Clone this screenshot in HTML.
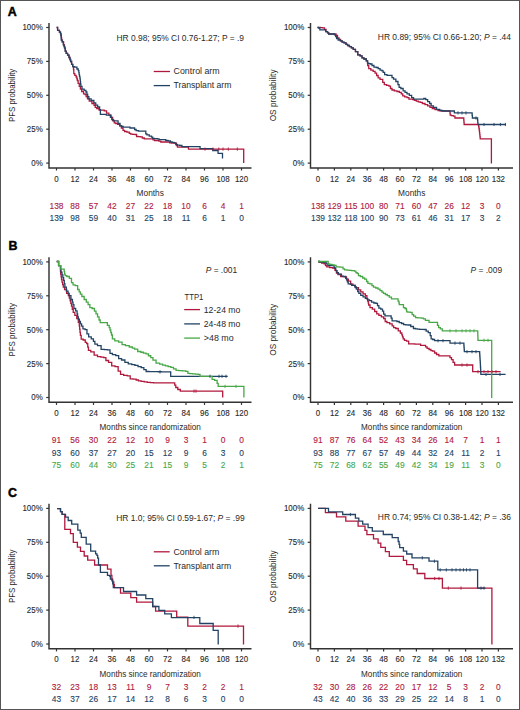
<!DOCTYPE html>
<html><head><meta charset="utf-8"><style>
html,body{margin:0;padding:0;background:#fff;}
body{width:520px;height:710px;overflow:hidden;}
svg{display:block;}
text{font-family:"Liberation Sans",sans-serif;}
</style></head><body>
<svg width="520" height="710" viewBox="0 0 520 710">
<rect x="0" y="0" width="520" height="710" fill="#fff"/>
<g fill="#555"><rect x="0" y="0" width="520" height="1"/><rect x="0" y="709" width="520" height="1"/><rect x="0" y="0" width="1" height="710"/><rect x="519" y="0" width="1" height="710"/></g>
<text x="7.8" y="15.9" text-anchor="start" textLength="8.96" lengthAdjust="spacingAndGlyphs" style="font-size:12.4px;fill:#000;stroke:#000;stroke-width:0.45px;font-weight:bold" >A</text>
<path d="M49 22.9 V167.9 H251.5" fill="none" stroke="#333333" stroke-width="1.45"/>
<path d="M46.2 27.5 H49" stroke="#333333" stroke-width="1.2"/>
<text x="42.7" y="30.4" text-anchor="end" textLength="20.26" lengthAdjust="spacingAndGlyphs" style="font-size:9.0px;fill:#2a2a2a;stroke:#2a2a2a;stroke-width:0.12px" >100%</text>
<path d="M46.2 61.4 H49" stroke="#333333" stroke-width="1.2"/>
<text x="42.7" y="64.3" text-anchor="end" textLength="15.85" lengthAdjust="spacingAndGlyphs" style="font-size:9.0px;fill:#2a2a2a;stroke:#2a2a2a;stroke-width:0.12px" >75%</text>
<path d="M46.2 95.3 H49" stroke="#333333" stroke-width="1.2"/>
<text x="42.7" y="98.2" text-anchor="end" textLength="15.85" lengthAdjust="spacingAndGlyphs" style="font-size:9.0px;fill:#2a2a2a;stroke:#2a2a2a;stroke-width:0.12px" >50%</text>
<path d="M46.2 129.2 H49" stroke="#333333" stroke-width="1.2"/>
<text x="42.7" y="132.1" text-anchor="end" textLength="15.85" lengthAdjust="spacingAndGlyphs" style="font-size:9.0px;fill:#2a2a2a;stroke:#2a2a2a;stroke-width:0.12px" >25%</text>
<path d="M46.2 163.1 H49" stroke="#333333" stroke-width="1.2"/>
<text x="42.7" y="166" text-anchor="end" textLength="11.45" lengthAdjust="spacingAndGlyphs" style="font-size:9.0px;fill:#2a2a2a;stroke:#2a2a2a;stroke-width:0.12px" >0%</text>
<path d="M56.5 167.9 v2.6" stroke="#333333" stroke-width="1.2"/>
<text x="56.5" y="181.5" text-anchor="middle" textLength="4.4" lengthAdjust="spacingAndGlyphs" style="font-size:9.0px;fill:#2a2a2a;stroke:#2a2a2a;stroke-width:0.12px" >0</text>
<path d="M75 167.9 v2.6" stroke="#333333" stroke-width="1.2"/>
<text x="75" y="181.5" text-anchor="middle" textLength="8.81" lengthAdjust="spacingAndGlyphs" style="font-size:9.0px;fill:#2a2a2a;stroke:#2a2a2a;stroke-width:0.12px" >12</text>
<path d="M93.5 167.9 v2.6" stroke="#333333" stroke-width="1.2"/>
<text x="93.5" y="181.5" text-anchor="middle" textLength="8.81" lengthAdjust="spacingAndGlyphs" style="font-size:9.0px;fill:#2a2a2a;stroke:#2a2a2a;stroke-width:0.12px" >24</text>
<path d="M112 167.9 v2.6" stroke="#333333" stroke-width="1.2"/>
<text x="112" y="181.5" text-anchor="middle" textLength="8.81" lengthAdjust="spacingAndGlyphs" style="font-size:9.0px;fill:#2a2a2a;stroke:#2a2a2a;stroke-width:0.12px" >36</text>
<path d="M130.5 167.9 v2.6" stroke="#333333" stroke-width="1.2"/>
<text x="130.5" y="181.5" text-anchor="middle" textLength="8.81" lengthAdjust="spacingAndGlyphs" style="font-size:9.0px;fill:#2a2a2a;stroke:#2a2a2a;stroke-width:0.12px" >48</text>
<path d="M149 167.9 v2.6" stroke="#333333" stroke-width="1.2"/>
<text x="149" y="181.5" text-anchor="middle" textLength="8.81" lengthAdjust="spacingAndGlyphs" style="font-size:9.0px;fill:#2a2a2a;stroke:#2a2a2a;stroke-width:0.12px" >60</text>
<path d="M167.5 167.9 v2.6" stroke="#333333" stroke-width="1.2"/>
<text x="167.5" y="181.5" text-anchor="middle" textLength="8.81" lengthAdjust="spacingAndGlyphs" style="font-size:9.0px;fill:#2a2a2a;stroke:#2a2a2a;stroke-width:0.12px" >72</text>
<path d="M186 167.9 v2.6" stroke="#333333" stroke-width="1.2"/>
<text x="186" y="181.5" text-anchor="middle" textLength="8.81" lengthAdjust="spacingAndGlyphs" style="font-size:9.0px;fill:#2a2a2a;stroke:#2a2a2a;stroke-width:0.12px" >84</text>
<path d="M204.5 167.9 v2.6" stroke="#333333" stroke-width="1.2"/>
<text x="204.5" y="181.5" text-anchor="middle" textLength="8.81" lengthAdjust="spacingAndGlyphs" style="font-size:9.0px;fill:#2a2a2a;stroke:#2a2a2a;stroke-width:0.12px" >96</text>
<path d="M223 167.9 v2.6" stroke="#333333" stroke-width="1.2"/>
<text x="223" y="181.5" text-anchor="middle" textLength="13.21" lengthAdjust="spacingAndGlyphs" style="font-size:9.0px;fill:#2a2a2a;stroke:#2a2a2a;stroke-width:0.12px" >108</text>
<path d="M241.5 167.9 v2.6" stroke="#333333" stroke-width="1.2"/>
<text x="241.5" y="181.5" text-anchor="middle" textLength="13.21" lengthAdjust="spacingAndGlyphs" style="font-size:9.0px;fill:#2a2a2a;stroke:#2a2a2a;stroke-width:0.12px" >120</text>
<text x="150.25" y="195.6" text-anchor="middle" textLength="27.3" lengthAdjust="spacingAndGlyphs" style="font-size:9.8px;fill:#2a2a2a;stroke:#2a2a2a;stroke-width:0.0px" >Months</text>
<g transform="translate(14.6 95.4) rotate(-90)">
<text x="0" y="0" text-anchor="middle" textLength="53.3" lengthAdjust="spacingAndGlyphs" style="font-size:9.8px;fill:#2a2a2a;stroke:#2a2a2a;stroke-width:0.0px" >PFS probability</text>
</g>
<text x="56.5" y="208.6" text-anchor="middle" textLength="13.97" lengthAdjust="spacingAndGlyphs" style="font-size:9.0px;fill:#b0183d;stroke:#b0183d;stroke-width:0.12px" >138</text>
<text x="75" y="208.6" text-anchor="middle" textLength="9.31" lengthAdjust="spacingAndGlyphs" style="font-size:9.0px;fill:#b0183d;stroke:#b0183d;stroke-width:0.12px" >88</text>
<text x="93.5" y="208.6" text-anchor="middle" textLength="9.31" lengthAdjust="spacingAndGlyphs" style="font-size:9.0px;fill:#b0183d;stroke:#b0183d;stroke-width:0.12px" >57</text>
<text x="112" y="208.6" text-anchor="middle" textLength="9.31" lengthAdjust="spacingAndGlyphs" style="font-size:9.0px;fill:#b0183d;stroke:#b0183d;stroke-width:0.12px" >42</text>
<text x="130.5" y="208.6" text-anchor="middle" textLength="9.31" lengthAdjust="spacingAndGlyphs" style="font-size:9.0px;fill:#b0183d;stroke:#b0183d;stroke-width:0.12px" >27</text>
<text x="149" y="208.6" text-anchor="middle" textLength="9.31" lengthAdjust="spacingAndGlyphs" style="font-size:9.0px;fill:#b0183d;stroke:#b0183d;stroke-width:0.12px" >22</text>
<text x="167.5" y="208.6" text-anchor="middle" textLength="9.31" lengthAdjust="spacingAndGlyphs" style="font-size:9.0px;fill:#b0183d;stroke:#b0183d;stroke-width:0.12px" >18</text>
<text x="186" y="208.6" text-anchor="middle" textLength="9.31" lengthAdjust="spacingAndGlyphs" style="font-size:9.0px;fill:#b0183d;stroke:#b0183d;stroke-width:0.12px" >10</text>
<text x="204.5" y="208.6" text-anchor="middle" textLength="4.66" lengthAdjust="spacingAndGlyphs" style="font-size:9.0px;fill:#b0183d;stroke:#b0183d;stroke-width:0.12px" >6</text>
<text x="223" y="208.6" text-anchor="middle" textLength="4.66" lengthAdjust="spacingAndGlyphs" style="font-size:9.0px;fill:#b0183d;stroke:#b0183d;stroke-width:0.12px" >4</text>
<text x="241.5" y="208.6" text-anchor="middle" textLength="4.66" lengthAdjust="spacingAndGlyphs" style="font-size:9.0px;fill:#b0183d;stroke:#b0183d;stroke-width:0.12px" >1</text>
<text x="56.5" y="221.1" text-anchor="middle" textLength="13.97" lengthAdjust="spacingAndGlyphs" style="font-size:9.0px;fill:#234364;stroke:#234364;stroke-width:0.12px" >139</text>
<text x="75" y="221.1" text-anchor="middle" textLength="9.31" lengthAdjust="spacingAndGlyphs" style="font-size:9.0px;fill:#234364;stroke:#234364;stroke-width:0.12px" >98</text>
<text x="93.5" y="221.1" text-anchor="middle" textLength="9.31" lengthAdjust="spacingAndGlyphs" style="font-size:9.0px;fill:#234364;stroke:#234364;stroke-width:0.12px" >59</text>
<text x="112" y="221.1" text-anchor="middle" textLength="9.31" lengthAdjust="spacingAndGlyphs" style="font-size:9.0px;fill:#234364;stroke:#234364;stroke-width:0.12px" >40</text>
<text x="130.5" y="221.1" text-anchor="middle" textLength="9.31" lengthAdjust="spacingAndGlyphs" style="font-size:9.0px;fill:#234364;stroke:#234364;stroke-width:0.12px" >31</text>
<text x="149" y="221.1" text-anchor="middle" textLength="9.31" lengthAdjust="spacingAndGlyphs" style="font-size:9.0px;fill:#234364;stroke:#234364;stroke-width:0.12px" >25</text>
<text x="167.5" y="221.1" text-anchor="middle" textLength="9.31" lengthAdjust="spacingAndGlyphs" style="font-size:9.0px;fill:#234364;stroke:#234364;stroke-width:0.12px" >18</text>
<text x="186" y="221.1" text-anchor="middle" textLength="8.69" lengthAdjust="spacingAndGlyphs" style="font-size:9.0px;fill:#234364;stroke:#234364;stroke-width:0.12px" >11</text>
<text x="204.5" y="221.1" text-anchor="middle" textLength="4.66" lengthAdjust="spacingAndGlyphs" style="font-size:9.0px;fill:#234364;stroke:#234364;stroke-width:0.12px" >6</text>
<text x="223" y="221.1" text-anchor="middle" textLength="4.66" lengthAdjust="spacingAndGlyphs" style="font-size:9.0px;fill:#234364;stroke:#234364;stroke-width:0.12px" >1</text>
<text x="241.5" y="221.1" text-anchor="middle" textLength="4.66" lengthAdjust="spacingAndGlyphs" style="font-size:9.0px;fill:#234364;stroke:#234364;stroke-width:0.12px" >0</text>
<text x="116.5" y="40.5" text-anchor="start" textLength="127.5" lengthAdjust="spacingAndGlyphs" style="font-size:8.7px;fill:#2a2a2a;stroke:#2a2a2a;stroke-width:0.0px" >HR 0.98; 95% CI 0.76-1.27; P = .9</text>
<path d="M153.7 71.5 H170" stroke="#b0183d" stroke-width="1.3"/>
<path d="M153.7 85.6 H170" stroke="#234364" stroke-width="1.3"/>
<text x="173.6" y="74.2" text-anchor="start" textLength="46" lengthAdjust="spacingAndGlyphs" style="font-size:9.0px;fill:#2a2a2a;stroke:#2a2a2a;stroke-width:0.0px" >Control arm</text>
<text x="173.6" y="88.3" text-anchor="start" textLength="57.8" lengthAdjust="spacingAndGlyphs" style="font-size:9.0px;fill:#2a2a2a;stroke:#2a2a2a;stroke-width:0.0px" >Transplant arm</text>
<path d="M56.6 27.5 H57.6 V30.3 H58.6 H59.45 V32.1 H60.3 H60.52 V33.8 H60.98 V35.5 H61.2 H61.35 V37.85 H61.65 V40.2 H61.8 H62.4 V41.9 H63 H63.6 V44.8 H64.2 H64.4 V46.5 H64.8 V48.2 H65 H65.4 V51.1 H65.8 H66.35 V53.4 H66.9 H67.65 V55.2 H68.4 H69 V57.5 H69.6 H69.92 V59.5 H70.58 V61.5 H70.9 H71.6 V64.3 H72.3 H72.75 V66.7 H73.2 H73.5 V69.5 H73.8 V73.6 H74.8 V75.3 H75.5 H76.1 V77 H76.7 H76.9 V78.75 H77.3 V80.5 H77.5 H78.1 V83.4 H78.7 H79.25 V86.3 H79.8 H80.4 V89.2 H81 H81.7 V91.5 H82.4 H83.55 V93.8 H84.7 H85.1 V94.5 H85.5 H86.15 V96.7 H87.45 V98.9 H88.1 H89.25 V101.2 H90.4 H91.95 V103.5 H93.5 H94.08 V105.45 H95.22 V107.4 H95.8 H96.75 V108.5 H97.7 H99.05 V110.1 H100.4 H102.7 H104.25 V110.8 H105.8 H106.55 V113.2 H107.3 H108.85 V115.1 H110.4 H111.15 V117.4 H111.9 H112.7 V120.5 H113.5 H114.25 V122.8 H115 H115.75 V123.5 H116.5 H117.65 V124.3 H118.8 H119.6 V125.8 H120.4 H121.35 V128 H122.3 H123.05 V130.3 H123.8 H124.6 V131.5 H125.4 H126.95 V132.2 H128.5 H129.25 V133.4 H130 H130.75 V134.2 H131.5 H132.68 V134.35 H135.02 V134.5 H136.2 H136.55 V136.5 H136.9 H138.05 V136.65 H140.35 V136.8 H141.5 H142.3 V138 H143.1 H144.25 V138.8 H145.4 H152.3 H153.05 V139.9 H153.8 H154.6 V140.5 H155.4 H158.1 H158.85 V141.2 H159.6 H160.75 V142 H161.9 H168.8 H169.6 V142.8 H170.4 H171.75 V143 H174.45 V143.2 H175.8 H176.35 V145.5 H176.9 H177.5 V147.2 H178.1 H188.1 H188.45 V149.1 H188.8 H243.7 V162.9" fill="none" stroke="#b0183d" stroke-width="1.3"/>
<path d="M56.6 27.5 H57.6 V30.3 H58.6 H59.45 V32.1 H60.3 H60.52 V33.8 H60.98 V35.5 H61.2 V40.2 H62.1 V41.9 H62.7 H63.25 V44.8 H63.8 H64.03 V46.5 H64.47 V48.2 H64.7 H65.1 V51.1 H65.5 H66.1 V53.4 H66.7 H67.55 V55.2 H68.4 H69 V57.5 H69.6 H69.92 V59.5 H70.58 V61.5 H70.9 H71.6 V64.3 H72.3 H72.75 V66.7 H73.2 H74.65 V67.2 H76.1 H76.95 V69 H77.8 H78.25 V70.7 H78.7 H78.85 V72.7 H79.15 V74.7 H79.3 H79.5 V76.45 H79.9 V78.2 H80.1 H80.17 V79.95 H80.33 V81.7 H80.4 H80.55 V84 H80.85 V86.3 H81 H82 V89.2 H83 H84.15 V90.3 H85.3 H85.9 V92 H86.5 H86.9 V94.3 H87.7 V96.6 H88.1 H88.85 V98.9 H89.6 H91.15 V100.5 H92.7 H93.85 V102.8 H95 H95.75 V105.1 H96.5 H97.65 V107 H98.8 H99.6 V109.7 H100.4 V114.3 H105.8 H106.35 V115.1 H106.9 H109.6 H110.4 V117.4 H111.2 H111.75 V119.7 H112.3 H113.25 V120.8 H114.2 H117.3 H118.05 V123.5 H118.8 H120 V125.8 H121.2 H121.75 V126.5 H122.3 H123.05 V127.2 H123.8 H129.2 H130 V128 H130.8 H133.8 H134.6 V129.5 H135.4 H136.15 V130.7 H136.9 H138.45 V131.1 H140 H145.4 H145.8 V133.8 H146.2 H146.95 V134.9 H147.7 H149.25 V136.1 H150.8 H151.55 V137.2 H152.3 H152.7 V138.4 H153.1 H154.45 V138.6 H157.15 V138.8 H158.5 H159.05 V139.7 H159.6 H165 H165.75 V140.5 H166.5 H168.05 V140.8 H169.6 H170.4 V142 H171.2 H172.15 V142.4 H174.05 V142.8 H175 H175.75 V144.3 H176.5 H177.3 V145.1 H178.1 H179.65 V145.5 H181.2 H181.95 V146.6 H182.7 H199.8 H200.05 V148.6 H200.3 H212.5 H212.75 V150.5 H213 H217.8 H218.05 V153.3 H218.3 H222.5 V158.6" fill="none" stroke="#234364" stroke-width="1.3"/>
<path d="M205 147.5 v3.2" stroke="#b0183d" stroke-width="0.9"/>
<path d="M213 147.5 v3.2" stroke="#b0183d" stroke-width="0.9"/>
<path d="M218.8 147.5 v3.2" stroke="#b0183d" stroke-width="0.9"/>
<path d="M223 147.5 v3.2" stroke="#b0183d" stroke-width="0.9"/>
<path d="M228.3 147.5 v3.2" stroke="#b0183d" stroke-width="0.9"/>
<path d="M237.3 147.5 v3.2" stroke="#b0183d" stroke-width="0.9"/>
<path d="M310.5 22.9 V167.9 H513" fill="none" stroke="#333333" stroke-width="1.45"/>
<path d="M307.7 27.5 H310.5" stroke="#333333" stroke-width="1.2"/>
<text x="304.2" y="30.4" text-anchor="end" textLength="20.26" lengthAdjust="spacingAndGlyphs" style="font-size:9.0px;fill:#2a2a2a;stroke:#2a2a2a;stroke-width:0.12px" >100%</text>
<path d="M307.7 61.4 H310.5" stroke="#333333" stroke-width="1.2"/>
<text x="304.2" y="64.3" text-anchor="end" textLength="15.85" lengthAdjust="spacingAndGlyphs" style="font-size:9.0px;fill:#2a2a2a;stroke:#2a2a2a;stroke-width:0.12px" >75%</text>
<path d="M307.7 95.3 H310.5" stroke="#333333" stroke-width="1.2"/>
<text x="304.2" y="98.2" text-anchor="end" textLength="15.85" lengthAdjust="spacingAndGlyphs" style="font-size:9.0px;fill:#2a2a2a;stroke:#2a2a2a;stroke-width:0.12px" >50%</text>
<path d="M307.7 129.2 H310.5" stroke="#333333" stroke-width="1.2"/>
<text x="304.2" y="132.1" text-anchor="end" textLength="15.85" lengthAdjust="spacingAndGlyphs" style="font-size:9.0px;fill:#2a2a2a;stroke:#2a2a2a;stroke-width:0.12px" >25%</text>
<path d="M307.7 163.1 H310.5" stroke="#333333" stroke-width="1.2"/>
<text x="304.2" y="166" text-anchor="end" textLength="11.45" lengthAdjust="spacingAndGlyphs" style="font-size:9.0px;fill:#2a2a2a;stroke:#2a2a2a;stroke-width:0.12px" >0%</text>
<path d="M318 167.9 v2.6" stroke="#333333" stroke-width="1.2"/>
<text x="318" y="181.5" text-anchor="middle" textLength="4.4" lengthAdjust="spacingAndGlyphs" style="font-size:9.0px;fill:#2a2a2a;stroke:#2a2a2a;stroke-width:0.12px" >0</text>
<path d="M334.4 167.9 v2.6" stroke="#333333" stroke-width="1.2"/>
<text x="334.4" y="181.5" text-anchor="middle" textLength="8.81" lengthAdjust="spacingAndGlyphs" style="font-size:9.0px;fill:#2a2a2a;stroke:#2a2a2a;stroke-width:0.12px" >12</text>
<path d="M350.8 167.9 v2.6" stroke="#333333" stroke-width="1.2"/>
<text x="350.8" y="181.5" text-anchor="middle" textLength="8.81" lengthAdjust="spacingAndGlyphs" style="font-size:9.0px;fill:#2a2a2a;stroke:#2a2a2a;stroke-width:0.12px" >24</text>
<path d="M367.2 167.9 v2.6" stroke="#333333" stroke-width="1.2"/>
<text x="367.2" y="181.5" text-anchor="middle" textLength="8.81" lengthAdjust="spacingAndGlyphs" style="font-size:9.0px;fill:#2a2a2a;stroke:#2a2a2a;stroke-width:0.12px" >36</text>
<path d="M383.6 167.9 v2.6" stroke="#333333" stroke-width="1.2"/>
<text x="383.6" y="181.5" text-anchor="middle" textLength="8.81" lengthAdjust="spacingAndGlyphs" style="font-size:9.0px;fill:#2a2a2a;stroke:#2a2a2a;stroke-width:0.12px" >48</text>
<path d="M400 167.9 v2.6" stroke="#333333" stroke-width="1.2"/>
<text x="400" y="181.5" text-anchor="middle" textLength="8.81" lengthAdjust="spacingAndGlyphs" style="font-size:9.0px;fill:#2a2a2a;stroke:#2a2a2a;stroke-width:0.12px" >60</text>
<path d="M416.4 167.9 v2.6" stroke="#333333" stroke-width="1.2"/>
<text x="416.4" y="181.5" text-anchor="middle" textLength="8.81" lengthAdjust="spacingAndGlyphs" style="font-size:9.0px;fill:#2a2a2a;stroke:#2a2a2a;stroke-width:0.12px" >72</text>
<path d="M432.8 167.9 v2.6" stroke="#333333" stroke-width="1.2"/>
<text x="432.8" y="181.5" text-anchor="middle" textLength="8.81" lengthAdjust="spacingAndGlyphs" style="font-size:9.0px;fill:#2a2a2a;stroke:#2a2a2a;stroke-width:0.12px" >84</text>
<path d="M449.2 167.9 v2.6" stroke="#333333" stroke-width="1.2"/>
<text x="449.2" y="181.5" text-anchor="middle" textLength="8.81" lengthAdjust="spacingAndGlyphs" style="font-size:9.0px;fill:#2a2a2a;stroke:#2a2a2a;stroke-width:0.12px" >96</text>
<path d="M465.6 167.9 v2.6" stroke="#333333" stroke-width="1.2"/>
<text x="465.6" y="181.5" text-anchor="middle" textLength="13.21" lengthAdjust="spacingAndGlyphs" style="font-size:9.0px;fill:#2a2a2a;stroke:#2a2a2a;stroke-width:0.12px" >108</text>
<path d="M482 167.9 v2.6" stroke="#333333" stroke-width="1.2"/>
<text x="482" y="181.5" text-anchor="middle" textLength="13.21" lengthAdjust="spacingAndGlyphs" style="font-size:9.0px;fill:#2a2a2a;stroke:#2a2a2a;stroke-width:0.12px" >120</text>
<path d="M498.4 167.9 v2.6" stroke="#333333" stroke-width="1.2"/>
<text x="498.4" y="181.5" text-anchor="middle" textLength="13.21" lengthAdjust="spacingAndGlyphs" style="font-size:9.0px;fill:#2a2a2a;stroke:#2a2a2a;stroke-width:0.12px" >132</text>
<text x="411.75" y="195.6" text-anchor="middle" textLength="27.3" lengthAdjust="spacingAndGlyphs" style="font-size:9.8px;fill:#2a2a2a;stroke:#2a2a2a;stroke-width:0.0px" >Months</text>
<g transform="translate(276.1 95.4) rotate(-90)">
<text x="0" y="0" text-anchor="middle" textLength="51.9" lengthAdjust="spacingAndGlyphs" style="font-size:9.8px;fill:#2a2a2a;stroke:#2a2a2a;stroke-width:0.0px" >OS probability</text>
</g>
<text x="318" y="208.6" text-anchor="middle" textLength="13.97" lengthAdjust="spacingAndGlyphs" style="font-size:9.0px;fill:#b0183d;stroke:#b0183d;stroke-width:0.12px" >138</text>
<text x="334.4" y="208.6" text-anchor="middle" textLength="13.97" lengthAdjust="spacingAndGlyphs" style="font-size:9.0px;fill:#b0183d;stroke:#b0183d;stroke-width:0.12px" >129</text>
<text x="350.8" y="208.6" text-anchor="middle" textLength="13.34" lengthAdjust="spacingAndGlyphs" style="font-size:9.0px;fill:#b0183d;stroke:#b0183d;stroke-width:0.12px" >115</text>
<text x="367.2" y="208.6" text-anchor="middle" textLength="13.97" lengthAdjust="spacingAndGlyphs" style="font-size:9.0px;fill:#b0183d;stroke:#b0183d;stroke-width:0.12px" >100</text>
<text x="383.6" y="208.6" text-anchor="middle" textLength="9.31" lengthAdjust="spacingAndGlyphs" style="font-size:9.0px;fill:#b0183d;stroke:#b0183d;stroke-width:0.12px" >80</text>
<text x="400" y="208.6" text-anchor="middle" textLength="9.31" lengthAdjust="spacingAndGlyphs" style="font-size:9.0px;fill:#b0183d;stroke:#b0183d;stroke-width:0.12px" >71</text>
<text x="416.4" y="208.6" text-anchor="middle" textLength="9.31" lengthAdjust="spacingAndGlyphs" style="font-size:9.0px;fill:#b0183d;stroke:#b0183d;stroke-width:0.12px" >60</text>
<text x="432.8" y="208.6" text-anchor="middle" textLength="9.31" lengthAdjust="spacingAndGlyphs" style="font-size:9.0px;fill:#b0183d;stroke:#b0183d;stroke-width:0.12px" >47</text>
<text x="449.2" y="208.6" text-anchor="middle" textLength="9.31" lengthAdjust="spacingAndGlyphs" style="font-size:9.0px;fill:#b0183d;stroke:#b0183d;stroke-width:0.12px" >26</text>
<text x="465.6" y="208.6" text-anchor="middle" textLength="9.31" lengthAdjust="spacingAndGlyphs" style="font-size:9.0px;fill:#b0183d;stroke:#b0183d;stroke-width:0.12px" >12</text>
<text x="482" y="208.6" text-anchor="middle" textLength="4.66" lengthAdjust="spacingAndGlyphs" style="font-size:9.0px;fill:#b0183d;stroke:#b0183d;stroke-width:0.12px" >3</text>
<text x="498.4" y="208.6" text-anchor="middle" textLength="4.66" lengthAdjust="spacingAndGlyphs" style="font-size:9.0px;fill:#b0183d;stroke:#b0183d;stroke-width:0.12px" >0</text>
<text x="318" y="221.1" text-anchor="middle" textLength="13.97" lengthAdjust="spacingAndGlyphs" style="font-size:9.0px;fill:#234364;stroke:#234364;stroke-width:0.12px" >139</text>
<text x="334.4" y="221.1" text-anchor="middle" textLength="13.97" lengthAdjust="spacingAndGlyphs" style="font-size:9.0px;fill:#234364;stroke:#234364;stroke-width:0.12px" >132</text>
<text x="350.8" y="221.1" text-anchor="middle" textLength="13.34" lengthAdjust="spacingAndGlyphs" style="font-size:9.0px;fill:#234364;stroke:#234364;stroke-width:0.12px" >118</text>
<text x="367.2" y="221.1" text-anchor="middle" textLength="13.97" lengthAdjust="spacingAndGlyphs" style="font-size:9.0px;fill:#234364;stroke:#234364;stroke-width:0.12px" >100</text>
<text x="383.6" y="221.1" text-anchor="middle" textLength="9.31" lengthAdjust="spacingAndGlyphs" style="font-size:9.0px;fill:#234364;stroke:#234364;stroke-width:0.12px" >90</text>
<text x="400" y="221.1" text-anchor="middle" textLength="9.31" lengthAdjust="spacingAndGlyphs" style="font-size:9.0px;fill:#234364;stroke:#234364;stroke-width:0.12px" >73</text>
<text x="416.4" y="221.1" text-anchor="middle" textLength="9.31" lengthAdjust="spacingAndGlyphs" style="font-size:9.0px;fill:#234364;stroke:#234364;stroke-width:0.12px" >61</text>
<text x="432.8" y="221.1" text-anchor="middle" textLength="9.31" lengthAdjust="spacingAndGlyphs" style="font-size:9.0px;fill:#234364;stroke:#234364;stroke-width:0.12px" >46</text>
<text x="449.2" y="221.1" text-anchor="middle" textLength="9.31" lengthAdjust="spacingAndGlyphs" style="font-size:9.0px;fill:#234364;stroke:#234364;stroke-width:0.12px" >31</text>
<text x="465.6" y="221.1" text-anchor="middle" textLength="9.31" lengthAdjust="spacingAndGlyphs" style="font-size:9.0px;fill:#234364;stroke:#234364;stroke-width:0.12px" >17</text>
<text x="482" y="221.1" text-anchor="middle" textLength="4.66" lengthAdjust="spacingAndGlyphs" style="font-size:9.0px;fill:#234364;stroke:#234364;stroke-width:0.12px" >3</text>
<text x="498.4" y="221.1" text-anchor="middle" textLength="4.66" lengthAdjust="spacingAndGlyphs" style="font-size:9.0px;fill:#234364;stroke:#234364;stroke-width:0.12px" >2</text>
<text x="377.8" y="40.4" text-anchor="start" textLength="133.2" lengthAdjust="spacingAndGlyphs" style="font-size:8.7px;fill:#2a2a2a;stroke:#2a2a2a;stroke-width:0.0px" >HR 0.89; 95% CI 0.66-1.20; <tspan font-style="italic">P</tspan> = .44</text>
<path d="M317.5 27.3 H319.1 H320.25 V27.65 H322.55 V27.8 H323.7 H324.45 V29.4 H325.2 H326 V31.7 H326.8 H327.55 V32.8 H328.3 H328.7 V34 H329.1 H335.2 H336 V35.5 H336.8 H337.55 V37.8 H338.3 H339.05 V39.4 H339.8 H340.6 V40.9 H341.4 H342.15 V42.1 H342.9 H344.05 V42.8 H345.2 H346 V44.4 H346.8 H347.55 V45.5 H348.3 H349.45 V46.7 H350.6 H351.4 V47.8 H352.2 H353.25 V49.4 H354.3 H355.45 V51.7 H356.6 H357.75 V54.8 H358.9 H360.05 V55.9 H361.2 H362 V57.8 H362.8 H363.95 V59 H365.1 H366.25 V60.9 H367.4 H367.5 V63.2 H367.7 V65.5 H367.8 H368.75 V68.6 H369.7 H370.85 V70.2 H372 H373.15 V71.3 H374.3 H375.05 V73.2 H375.8 H376.6 V75.5 H377.4 H378.15 V77.8 H378.9 H380.05 V79.4 H381.2 H382 H382.75 V82.3 H383.5 H384.3 V84.6 H385.1 H386.65 V85.4 H388.2 H388.95 V86.2 H389.7 H390.45 V88.5 H391.2 H392 V90 H392.8 H394.3 V90.8 H395.8 H397 V91.5 H398.2 H399.35 V92.3 H400.5 H401.25 V93.8 H402 H402.75 V95.8 H403.5 H404.65 V96.9 H405.8 H407 V97.7 H408.2 H408.95 V99.2 H409.7 H412 H412.75 V99.6 H413.5 H414.45 V100.4 H416.35 V101.2 H417.3 H418.27 V101.8 H420.23 V102.4 H421.2 H422.35 V103.5 H423.5 H425 V104.7 H426.5 H427.65 V105.8 H428.8 H430 V107.4 H431.2 H432.35 V108.5 H433.5 H435 V109.7 H436.5 H438.05 V110.5 H439.6 H441.15 V111 H442.7 H449.9 H450 V113.1 H450.2 V115.2 H450.3 H451.35 V115.7 H453.45 V116.2 H454.5 H454.95 V118 H455.4 H463.7 H463.78 V120.17 H463.95 V122.33 H464.12 V124.5 H464.2 H478.5 H478.65 V126.5 H478.95 V128.5 H479.25 V130.5 H479.4 H479.51 V132.57 H479.74 V134.65 H479.96 V136.73 H480.19 V138.8 H480.3 H491.4 V163.5" fill="none" stroke="#b0183d" stroke-width="1.3"/>
<path d="M317.5 27.3 H318.3 V28.2 H319.1 H319.85 V29.8 H320.6 H324.5 H325.65 V31.7 H326.8 H327.55 V32.8 H328.3 H328.7 V34 H329.1 H333.7 H334.45 V34.8 H335.2 H335.6 V36.7 H336 H336.6 V38.6 H337.2 H338.15 V40.2 H339.1 H340.25 V40.9 H341.4 H342.15 V42.1 H342.9 H344.05 V42.8 H345.2 H346 V44.4 H346.8 H347.55 V45.5 H348.3 H349.45 V46.7 H350.6 H351.4 V47.8 H352.2 H353.25 V49.4 H354.3 H355.45 V51.7 H356.6 H357.75 V54.8 H358.9 H360.05 V55.9 H361.2 H362 V57.8 H362.8 H363.95 V59 H365.1 H366.25 V60.9 H367.4 H367.6 V63.2 H367.8 H368.65 V63.6 H370.35 V64 H371.2 H372 V65.5 H372.8 H373.95 V67.1 H375.1 H376.25 V67.5 H377.4 H378.15 V68.6 H378.9 H380.05 V70.2 H381.2 H382 V70.8 H382.8 H383.15 V72.3 H383.5 H384.65 V74.6 H385.8 H387 V75.4 H388.2 H391.2 H392 V77.7 H392.8 H393.55 V79.2 H394.3 H395.85 V81.5 H397.4 H397.95 V84.6 H398.5 H399.1 V87.3 H399.7 H400.85 V88.5 H402 H403.15 V90.8 H404.3 H405.05 V92.3 H405.8 H407 V93.8 H408.2 H409.35 V95.4 H410.5 H411.65 V97.7 H412.8 H413.55 V99.2 H414.3 H422.7 H423.85 V98.5 H425 H425.75 V99.7 H426.5 H427.65 V101.6 H428.8 H429.6 V103.5 H430.4 H431.15 V105.8 H431.9 H433.45 V107.4 H435 H436.55 V109.3 H438.1 H439.65 V110.5 H441.2 H442.15 V110.75 H444.05 V111 H445 H454.2 H454.35 V112.9 H454.5 H472 H472.12 V115.45 H472.38 V118 H472.5 H477.5 H477.58 V120.17 H477.75 V122.33 H477.92 V124.5 H478 H506" fill="none" stroke="#234364" stroke-width="1.3"/>
<path d="M484 122.9 v3.2" stroke="#234364" stroke-width="0.9"/>
<path d="M494 122.9 v3.2" stroke="#234364" stroke-width="0.9"/>
<path d="M500.4 122.9 v3.2" stroke="#234364" stroke-width="0.9"/>
<path d="M505.4 122.9 v3.2" stroke="#234364" stroke-width="0.9"/>
<path d="M458 111.3 v3.2" stroke="#234364" stroke-width="0.9"/>
<path d="M462 111.3 v3.2" stroke="#234364" stroke-width="0.9"/>
<path d="M466 111.3 v3.2" stroke="#234364" stroke-width="0.9"/>
<path d="M476 116.4 v3.2" stroke="#234364" stroke-width="0.9"/>
<text x="8.6" y="250.2" text-anchor="start" textLength="8.96" lengthAdjust="spacingAndGlyphs" style="font-size:12.4px;fill:#000;stroke:#000;stroke-width:0.45px;font-weight:bold" >B</text>
<path d="M49 257.3 V402.3 H251.5" fill="none" stroke="#333333" stroke-width="1.45"/>
<path d="M46.2 261.9 H49" stroke="#333333" stroke-width="1.2"/>
<text x="42.7" y="264.8" text-anchor="end" textLength="20.26" lengthAdjust="spacingAndGlyphs" style="font-size:9.0px;fill:#2a2a2a;stroke:#2a2a2a;stroke-width:0.12px" >100%</text>
<path d="M46.2 295.8 H49" stroke="#333333" stroke-width="1.2"/>
<text x="42.7" y="298.7" text-anchor="end" textLength="15.85" lengthAdjust="spacingAndGlyphs" style="font-size:9.0px;fill:#2a2a2a;stroke:#2a2a2a;stroke-width:0.12px" >75%</text>
<path d="M46.2 329.7 H49" stroke="#333333" stroke-width="1.2"/>
<text x="42.7" y="332.6" text-anchor="end" textLength="15.85" lengthAdjust="spacingAndGlyphs" style="font-size:9.0px;fill:#2a2a2a;stroke:#2a2a2a;stroke-width:0.12px" >50%</text>
<path d="M46.2 363.6 H49" stroke="#333333" stroke-width="1.2"/>
<text x="42.7" y="366.5" text-anchor="end" textLength="15.85" lengthAdjust="spacingAndGlyphs" style="font-size:9.0px;fill:#2a2a2a;stroke:#2a2a2a;stroke-width:0.12px" >25%</text>
<path d="M46.2 397.5 H49" stroke="#333333" stroke-width="1.2"/>
<text x="42.7" y="400.4" text-anchor="end" textLength="11.45" lengthAdjust="spacingAndGlyphs" style="font-size:9.0px;fill:#2a2a2a;stroke:#2a2a2a;stroke-width:0.12px" >0%</text>
<path d="M56.5 402.3 v2.6" stroke="#333333" stroke-width="1.2"/>
<text x="56.5" y="415.9" text-anchor="middle" textLength="4.4" lengthAdjust="spacingAndGlyphs" style="font-size:9.0px;fill:#2a2a2a;stroke:#2a2a2a;stroke-width:0.12px" >0</text>
<path d="M75 402.3 v2.6" stroke="#333333" stroke-width="1.2"/>
<text x="75" y="415.9" text-anchor="middle" textLength="8.81" lengthAdjust="spacingAndGlyphs" style="font-size:9.0px;fill:#2a2a2a;stroke:#2a2a2a;stroke-width:0.12px" >12</text>
<path d="M93.5 402.3 v2.6" stroke="#333333" stroke-width="1.2"/>
<text x="93.5" y="415.9" text-anchor="middle" textLength="8.81" lengthAdjust="spacingAndGlyphs" style="font-size:9.0px;fill:#2a2a2a;stroke:#2a2a2a;stroke-width:0.12px" >24</text>
<path d="M112 402.3 v2.6" stroke="#333333" stroke-width="1.2"/>
<text x="112" y="415.9" text-anchor="middle" textLength="8.81" lengthAdjust="spacingAndGlyphs" style="font-size:9.0px;fill:#2a2a2a;stroke:#2a2a2a;stroke-width:0.12px" >36</text>
<path d="M130.5 402.3 v2.6" stroke="#333333" stroke-width="1.2"/>
<text x="130.5" y="415.9" text-anchor="middle" textLength="8.81" lengthAdjust="spacingAndGlyphs" style="font-size:9.0px;fill:#2a2a2a;stroke:#2a2a2a;stroke-width:0.12px" >48</text>
<path d="M149 402.3 v2.6" stroke="#333333" stroke-width="1.2"/>
<text x="149" y="415.9" text-anchor="middle" textLength="8.81" lengthAdjust="spacingAndGlyphs" style="font-size:9.0px;fill:#2a2a2a;stroke:#2a2a2a;stroke-width:0.12px" >60</text>
<path d="M167.5 402.3 v2.6" stroke="#333333" stroke-width="1.2"/>
<text x="167.5" y="415.9" text-anchor="middle" textLength="8.81" lengthAdjust="spacingAndGlyphs" style="font-size:9.0px;fill:#2a2a2a;stroke:#2a2a2a;stroke-width:0.12px" >72</text>
<path d="M186 402.3 v2.6" stroke="#333333" stroke-width="1.2"/>
<text x="186" y="415.9" text-anchor="middle" textLength="8.81" lengthAdjust="spacingAndGlyphs" style="font-size:9.0px;fill:#2a2a2a;stroke:#2a2a2a;stroke-width:0.12px" >84</text>
<path d="M204.5 402.3 v2.6" stroke="#333333" stroke-width="1.2"/>
<text x="204.5" y="415.9" text-anchor="middle" textLength="8.81" lengthAdjust="spacingAndGlyphs" style="font-size:9.0px;fill:#2a2a2a;stroke:#2a2a2a;stroke-width:0.12px" >96</text>
<path d="M223 402.3 v2.6" stroke="#333333" stroke-width="1.2"/>
<text x="223" y="415.9" text-anchor="middle" textLength="13.21" lengthAdjust="spacingAndGlyphs" style="font-size:9.0px;fill:#2a2a2a;stroke:#2a2a2a;stroke-width:0.12px" >108</text>
<path d="M241.5 402.3 v2.6" stroke="#333333" stroke-width="1.2"/>
<text x="241.5" y="415.9" text-anchor="middle" textLength="13.21" lengthAdjust="spacingAndGlyphs" style="font-size:9.0px;fill:#2a2a2a;stroke:#2a2a2a;stroke-width:0.12px" >120</text>
<text x="150.25" y="430" text-anchor="middle" textLength="101.3" lengthAdjust="spacingAndGlyphs" style="font-size:9.8px;fill:#2a2a2a;stroke:#2a2a2a;stroke-width:0.0px" >Months since randomization</text>
<g transform="translate(14.6 329.8) rotate(-90)">
<text x="0" y="0" text-anchor="middle" textLength="53.3" lengthAdjust="spacingAndGlyphs" style="font-size:9.8px;fill:#2a2a2a;stroke:#2a2a2a;stroke-width:0.0px" >PFS probability</text>
</g>
<text x="56.5" y="443" text-anchor="middle" textLength="9.31" lengthAdjust="spacingAndGlyphs" style="font-size:9.0px;fill:#b0183d;stroke:#b0183d;stroke-width:0.12px" >91</text>
<text x="75" y="443" text-anchor="middle" textLength="9.31" lengthAdjust="spacingAndGlyphs" style="font-size:9.0px;fill:#b0183d;stroke:#b0183d;stroke-width:0.12px" >56</text>
<text x="93.5" y="443" text-anchor="middle" textLength="9.31" lengthAdjust="spacingAndGlyphs" style="font-size:9.0px;fill:#b0183d;stroke:#b0183d;stroke-width:0.12px" >30</text>
<text x="112" y="443" text-anchor="middle" textLength="9.31" lengthAdjust="spacingAndGlyphs" style="font-size:9.0px;fill:#b0183d;stroke:#b0183d;stroke-width:0.12px" >22</text>
<text x="130.5" y="443" text-anchor="middle" textLength="9.31" lengthAdjust="spacingAndGlyphs" style="font-size:9.0px;fill:#b0183d;stroke:#b0183d;stroke-width:0.12px" >12</text>
<text x="149" y="443" text-anchor="middle" textLength="9.31" lengthAdjust="spacingAndGlyphs" style="font-size:9.0px;fill:#b0183d;stroke:#b0183d;stroke-width:0.12px" >10</text>
<text x="167.5" y="443" text-anchor="middle" textLength="4.66" lengthAdjust="spacingAndGlyphs" style="font-size:9.0px;fill:#b0183d;stroke:#b0183d;stroke-width:0.12px" >9</text>
<text x="186" y="443" text-anchor="middle" textLength="4.66" lengthAdjust="spacingAndGlyphs" style="font-size:9.0px;fill:#b0183d;stroke:#b0183d;stroke-width:0.12px" >3</text>
<text x="204.5" y="443" text-anchor="middle" textLength="4.66" lengthAdjust="spacingAndGlyphs" style="font-size:9.0px;fill:#b0183d;stroke:#b0183d;stroke-width:0.12px" >1</text>
<text x="223" y="443" text-anchor="middle" textLength="4.66" lengthAdjust="spacingAndGlyphs" style="font-size:9.0px;fill:#b0183d;stroke:#b0183d;stroke-width:0.12px" >0</text>
<text x="241.5" y="443" text-anchor="middle" textLength="4.66" lengthAdjust="spacingAndGlyphs" style="font-size:9.0px;fill:#b0183d;stroke:#b0183d;stroke-width:0.12px" >0</text>
<text x="56.5" y="455.5" text-anchor="middle" textLength="9.31" lengthAdjust="spacingAndGlyphs" style="font-size:9.0px;fill:#234364;stroke:#234364;stroke-width:0.12px" >93</text>
<text x="75" y="455.5" text-anchor="middle" textLength="9.31" lengthAdjust="spacingAndGlyphs" style="font-size:9.0px;fill:#234364;stroke:#234364;stroke-width:0.12px" >60</text>
<text x="93.5" y="455.5" text-anchor="middle" textLength="9.31" lengthAdjust="spacingAndGlyphs" style="font-size:9.0px;fill:#234364;stroke:#234364;stroke-width:0.12px" >37</text>
<text x="112" y="455.5" text-anchor="middle" textLength="9.31" lengthAdjust="spacingAndGlyphs" style="font-size:9.0px;fill:#234364;stroke:#234364;stroke-width:0.12px" >27</text>
<text x="130.5" y="455.5" text-anchor="middle" textLength="9.31" lengthAdjust="spacingAndGlyphs" style="font-size:9.0px;fill:#234364;stroke:#234364;stroke-width:0.12px" >20</text>
<text x="149" y="455.5" text-anchor="middle" textLength="9.31" lengthAdjust="spacingAndGlyphs" style="font-size:9.0px;fill:#234364;stroke:#234364;stroke-width:0.12px" >15</text>
<text x="167.5" y="455.5" text-anchor="middle" textLength="9.31" lengthAdjust="spacingAndGlyphs" style="font-size:9.0px;fill:#234364;stroke:#234364;stroke-width:0.12px" >12</text>
<text x="186" y="455.5" text-anchor="middle" textLength="4.66" lengthAdjust="spacingAndGlyphs" style="font-size:9.0px;fill:#234364;stroke:#234364;stroke-width:0.12px" >9</text>
<text x="204.5" y="455.5" text-anchor="middle" textLength="4.66" lengthAdjust="spacingAndGlyphs" style="font-size:9.0px;fill:#234364;stroke:#234364;stroke-width:0.12px" >6</text>
<text x="223" y="455.5" text-anchor="middle" textLength="4.66" lengthAdjust="spacingAndGlyphs" style="font-size:9.0px;fill:#234364;stroke:#234364;stroke-width:0.12px" >3</text>
<text x="241.5" y="455.5" text-anchor="middle" textLength="4.66" lengthAdjust="spacingAndGlyphs" style="font-size:9.0px;fill:#234364;stroke:#234364;stroke-width:0.12px" >0</text>
<text x="56.5" y="468" text-anchor="middle" textLength="9.31" lengthAdjust="spacingAndGlyphs" style="font-size:9.0px;fill:#48a848;stroke:#48a848;stroke-width:0.12px" >75</text>
<text x="75" y="468" text-anchor="middle" textLength="9.31" lengthAdjust="spacingAndGlyphs" style="font-size:9.0px;fill:#48a848;stroke:#48a848;stroke-width:0.12px" >60</text>
<text x="93.5" y="468" text-anchor="middle" textLength="9.31" lengthAdjust="spacingAndGlyphs" style="font-size:9.0px;fill:#48a848;stroke:#48a848;stroke-width:0.12px" >44</text>
<text x="112" y="468" text-anchor="middle" textLength="9.31" lengthAdjust="spacingAndGlyphs" style="font-size:9.0px;fill:#48a848;stroke:#48a848;stroke-width:0.12px" >30</text>
<text x="130.5" y="468" text-anchor="middle" textLength="9.31" lengthAdjust="spacingAndGlyphs" style="font-size:9.0px;fill:#48a848;stroke:#48a848;stroke-width:0.12px" >25</text>
<text x="149" y="468" text-anchor="middle" textLength="9.31" lengthAdjust="spacingAndGlyphs" style="font-size:9.0px;fill:#48a848;stroke:#48a848;stroke-width:0.12px" >21</text>
<text x="167.5" y="468" text-anchor="middle" textLength="9.31" lengthAdjust="spacingAndGlyphs" style="font-size:9.0px;fill:#48a848;stroke:#48a848;stroke-width:0.12px" >15</text>
<text x="186" y="468" text-anchor="middle" textLength="4.66" lengthAdjust="spacingAndGlyphs" style="font-size:9.0px;fill:#48a848;stroke:#48a848;stroke-width:0.12px" >9</text>
<text x="204.5" y="468" text-anchor="middle" textLength="4.66" lengthAdjust="spacingAndGlyphs" style="font-size:9.0px;fill:#48a848;stroke:#48a848;stroke-width:0.12px" >5</text>
<text x="223" y="468" text-anchor="middle" textLength="4.66" lengthAdjust="spacingAndGlyphs" style="font-size:9.0px;fill:#48a848;stroke:#48a848;stroke-width:0.12px" >2</text>
<text x="241.5" y="468" text-anchor="middle" textLength="4.66" lengthAdjust="spacingAndGlyphs" style="font-size:9.0px;fill:#48a848;stroke:#48a848;stroke-width:0.12px" >1</text>
<text x="205.7" y="273.2" text-anchor="start" textLength="31.5" lengthAdjust="spacingAndGlyphs" style="font-size:8.7px;fill:#2a2a2a;stroke:#2a2a2a;stroke-width:0.0px" ><tspan font-style="italic">P</tspan> = .001</text>
<text x="184.6" y="299.9" text-anchor="start" textLength="18.8" lengthAdjust="spacingAndGlyphs" style="font-size:8.7px;fill:#2a2a2a;stroke:#2a2a2a;stroke-width:0.0px" >TTP1</text>
<path d="M184.2 309.6 H200" stroke="#b0183d" stroke-width="1.3"/>
<path d="M184.2 323.9 H200" stroke="#234364" stroke-width="1.3"/>
<path d="M184.2 338.1 H200" stroke="#48a848" stroke-width="1.3"/>
<text x="203.8" y="312.7" text-anchor="start" textLength="36.6" lengthAdjust="spacingAndGlyphs" style="font-size:8.7px;fill:#2a2a2a;stroke:#2a2a2a;stroke-width:0.0px" >12-24 mo</text>
<text x="203.8" y="327" text-anchor="start" textLength="36.6" lengthAdjust="spacingAndGlyphs" style="font-size:8.7px;fill:#2a2a2a;stroke:#2a2a2a;stroke-width:0.0px" >24-48 mo</text>
<text x="203.8" y="341.2" text-anchor="start" textLength="29.8" lengthAdjust="spacingAndGlyphs" style="font-size:8.7px;fill:#2a2a2a;stroke:#2a2a2a;stroke-width:0.0px" >&gt;48 mo</text>
<path d="M56.7 261.5 H58.6 V265.7 H60.5 V271.5 H60.7 V274.17 H61.1 V276.83 H61.5 V279.5 H61.7 H62.02 V282.07 H62.65 V284.63 H63.28 V287.2 H63.6 H64.55 V289.5 H65.5 H66.65 V293.4 H67.8 H68.3 V295.7 H69.3 V298 H69.8 H70.13 V300.73 H70.8 V303.47 H71.47 V306.2 H71.8 H72.28 V309.25 H73.22 V312.3 H73.7 H74.85 V315.4 H76 H76.75 V318.5 H77.5 H78.3 V322.3 H79.1 H79.27 V325.75 H79.62 V329.2 H79.8 H80 V332.3 H80.4 V335.4 H80.6 H81.2 V339.2 H81.8 H83.15 V340 H84.5 H85.25 V342.3 H86 H86.7 V343.7 H87.4 H87.75 V347.05 H88.45 V350.4 H88.8 H90.75 V351.8 H92.7 H94.15 V355.2 H95.6 H97.5 V356.6 H99.4 H100.85 V357.1 H103.75 V357.6 H105.2 H105.9 V360.5 H106.6 H108.55 V362.4 H110.5 H111.7 V365.8 H112.9 H115.05 V366.7 H117.2 H118.15 V371.1 H119.1 H120.55 V374.4 H122 H123.7 V375.4 H125.4 H127.3 V375.9 H129.2 H130.2 V378.8 H131.2 H133.1 V379.2 H135 H136.15 V380 H138.45 V380.8 H139.6 H141.13 V381.3 H144.2 V381.8 H147.27 V382.3 H148.8 H150.35 V382.55 H153.45 V382.8 H155 H174.2 H174.72 V385.15 H175.78 V387.5 H176.3 H177.8 V389.5 H179.3 H180.3 V391.1 H181.3 H222.7 V397.6" fill="none" stroke="#b0183d" stroke-width="1.3"/>
<path d="M56.7 261.5 H58.6 V265.7 H60.5 V269.5 H61 V272.2 H62 V274.9 H62.5 H62.88 V277.6 H63.62 V280.3 H64 H64.3 V283.75 H64.9 V287.2 H65.2 H66.35 V291.1 H67.5 H68.08 V293.4 H69.22 V295.7 H69.8 H70.95 V299.5 H72.1 H72.4 V302.05 H73 V304.6 H73.3 H73.9 V308.5 H74.5 H75.65 V310.8 H76.8 H77.08 V313.85 H77.62 V316.9 H77.9 H78.38 V319.2 H79.33 V321.5 H79.8 H80.4 V323.85 H81.6 V326.2 H82.2 H82.95 V328.8 H83.7 H85.05 V329.6 H86.4 H86.95 V333.8 H87.5 H88.65 V336.9 H89.8 H91.25 V338.8 H92.7 H93.42 V341.45 H94.88 V344.1 H95.6 H97.5 V345.6 H99.4 H101.1 V349.4 H102.8 H104.35 V349.65 H107.45 V349.9 H109 H110 V353.3 H111 H112.4 V354.7 H113.8 H115.75 V355.7 H117.7 H118.65 V358.6 H119.6 H121.55 V360 H123.5 H124.9 V362.4 H126.3 H128.25 V363.8 H130.2 H131.77 V364.6 H134.93 V365.4 H136.5 H138.05 V366.55 H141.15 V367.7 H142.7 H143.85 V369.6 H146.15 V371.5 H147.3 H148.86 V371.56 H151.99 V371.61 H155.12 V371.67 H158.25 V371.73 H161.38 V371.79 H164.51 V371.84 H167.64 V371.9 H169.2 H170.7 V376.3 H172.2 H227.7" fill="none" stroke="#234364" stroke-width="1.3"/>
<path d="M56.7 261.5 H58.6 V265.7 H60.5 H60.9 V269.2 H61.3 H64 H64.2 V271.7 H64.6 V274.2 H64.8 H65.15 V275.7 H65.5 H66.85 V276.5 H68.2 H69.35 V278.4 H70.5 H71.5 V282.6 H72.5 H73.05 V284.9 H73.6 H75.15 V285.7 H76.7 H77.65 V289.5 H78.6 H79.17 V291.85 H80.33 V294.2 H80.9 H81.85 V296.5 H82.8 H84.15 V299.5 H85.5 H86.3 V302.2 H87.1 H88.1 V304.6 H89.1 H89.85 V307.7 H90.6 H92.15 V308.5 H93.7 H94.45 V311.2 H95.2 H96 V313.8 H96.8 H97.55 V316.9 H98.3 H99.05 V320 H99.8 H100.2 V322.7 H100.6 H106 H107.4 V325.4 H108.8 H109.2 V327.7 H110 V330 H110.4 H110.78 V332.5 H111.53 V335 H111.9 H112.4 V338.8 H112.9 H114.8 V340.8 H116.7 H118.65 V342.2 H120.6 H122.05 V344.6 H123.5 H125.4 V345.6 H127.3 H129.25 V347 H131.2 H132.35 V348.1 H134.65 V349.2 H135.8 H137.7 V351.5 H139.6 H140.88 V352.27 H143.45 V353.03 H146.02 V353.8 H147.3 H148.45 V355.75 H150.75 V357.7 H151.9 H152.95 V360.2 H154 H156.05 V363.2 H158.1 H159.6 V364.2 H162.6 V365.2 H164.1 H165.45 V365.9 H168.15 V366.6 H170.85 V367.3 H172.2 H173.47 V368.8 H176.03 V370.3 H177.3 H178.98 V370.63 H182.35 V370.97 H185.72 V371.3 H187.4 H187.9 V373.3 H188.4 H189.79 V373.55 H192.56 V373.8 H195.34 V374.05 H198.11 V374.3 H199.5 H200 V376.3 H200.5 H211.6 H212.1 V379.4 H212.6 H214.6 V380.4 H216.6 H217.12 V383.4 H218.17 V386.4 H218.7 H243.9 V397.6" fill="none" stroke="#48a848" stroke-width="1.3"/>
<path d="M160 370.3 v3.2" stroke="#234364" stroke-width="0.9"/>
<path d="M210 374.7 v3.2" stroke="#234364" stroke-width="0.9"/>
<path d="M219 374.7 v3.2" stroke="#234364" stroke-width="0.9"/>
<path d="M222 374.7 v3.2" stroke="#234364" stroke-width="0.9"/>
<path d="M226 374.7 v3.2" stroke="#234364" stroke-width="0.9"/>
<path d="M225 384.8 v3.2" stroke="#48a848" stroke-width="0.9"/>
<path d="M236 384.8 v3.2" stroke="#48a848" stroke-width="0.9"/>
<path d="M194 389.5 v3.2" stroke="#b0183d" stroke-width="0.9"/>
<path d="M196 389.5 v3.2" stroke="#b0183d" stroke-width="0.9"/>
<path d="M310.5 257.3 V402.3 H513" fill="none" stroke="#333333" stroke-width="1.45"/>
<path d="M307.7 261.9 H310.5" stroke="#333333" stroke-width="1.2"/>
<text x="304.2" y="264.8" text-anchor="end" textLength="20.26" lengthAdjust="spacingAndGlyphs" style="font-size:9.0px;fill:#2a2a2a;stroke:#2a2a2a;stroke-width:0.12px" >100%</text>
<path d="M307.7 295.8 H310.5" stroke="#333333" stroke-width="1.2"/>
<text x="304.2" y="298.7" text-anchor="end" textLength="15.85" lengthAdjust="spacingAndGlyphs" style="font-size:9.0px;fill:#2a2a2a;stroke:#2a2a2a;stroke-width:0.12px" >75%</text>
<path d="M307.7 329.7 H310.5" stroke="#333333" stroke-width="1.2"/>
<text x="304.2" y="332.6" text-anchor="end" textLength="15.85" lengthAdjust="spacingAndGlyphs" style="font-size:9.0px;fill:#2a2a2a;stroke:#2a2a2a;stroke-width:0.12px" >50%</text>
<path d="M307.7 363.6 H310.5" stroke="#333333" stroke-width="1.2"/>
<text x="304.2" y="366.5" text-anchor="end" textLength="15.85" lengthAdjust="spacingAndGlyphs" style="font-size:9.0px;fill:#2a2a2a;stroke:#2a2a2a;stroke-width:0.12px" >25%</text>
<path d="M307.7 397.5 H310.5" stroke="#333333" stroke-width="1.2"/>
<text x="304.2" y="400.4" text-anchor="end" textLength="11.45" lengthAdjust="spacingAndGlyphs" style="font-size:9.0px;fill:#2a2a2a;stroke:#2a2a2a;stroke-width:0.12px" >0%</text>
<path d="M318 402.3 v2.6" stroke="#333333" stroke-width="1.2"/>
<text x="318" y="415.9" text-anchor="middle" textLength="4.4" lengthAdjust="spacingAndGlyphs" style="font-size:9.0px;fill:#2a2a2a;stroke:#2a2a2a;stroke-width:0.12px" >0</text>
<path d="M334.4 402.3 v2.6" stroke="#333333" stroke-width="1.2"/>
<text x="334.4" y="415.9" text-anchor="middle" textLength="8.81" lengthAdjust="spacingAndGlyphs" style="font-size:9.0px;fill:#2a2a2a;stroke:#2a2a2a;stroke-width:0.12px" >12</text>
<path d="M350.8 402.3 v2.6" stroke="#333333" stroke-width="1.2"/>
<text x="350.8" y="415.9" text-anchor="middle" textLength="8.81" lengthAdjust="spacingAndGlyphs" style="font-size:9.0px;fill:#2a2a2a;stroke:#2a2a2a;stroke-width:0.12px" >24</text>
<path d="M367.2 402.3 v2.6" stroke="#333333" stroke-width="1.2"/>
<text x="367.2" y="415.9" text-anchor="middle" textLength="8.81" lengthAdjust="spacingAndGlyphs" style="font-size:9.0px;fill:#2a2a2a;stroke:#2a2a2a;stroke-width:0.12px" >36</text>
<path d="M383.6 402.3 v2.6" stroke="#333333" stroke-width="1.2"/>
<text x="383.6" y="415.9" text-anchor="middle" textLength="8.81" lengthAdjust="spacingAndGlyphs" style="font-size:9.0px;fill:#2a2a2a;stroke:#2a2a2a;stroke-width:0.12px" >48</text>
<path d="M400 402.3 v2.6" stroke="#333333" stroke-width="1.2"/>
<text x="400" y="415.9" text-anchor="middle" textLength="8.81" lengthAdjust="spacingAndGlyphs" style="font-size:9.0px;fill:#2a2a2a;stroke:#2a2a2a;stroke-width:0.12px" >60</text>
<path d="M416.4 402.3 v2.6" stroke="#333333" stroke-width="1.2"/>
<text x="416.4" y="415.9" text-anchor="middle" textLength="8.81" lengthAdjust="spacingAndGlyphs" style="font-size:9.0px;fill:#2a2a2a;stroke:#2a2a2a;stroke-width:0.12px" >72</text>
<path d="M432.8 402.3 v2.6" stroke="#333333" stroke-width="1.2"/>
<text x="432.8" y="415.9" text-anchor="middle" textLength="8.81" lengthAdjust="spacingAndGlyphs" style="font-size:9.0px;fill:#2a2a2a;stroke:#2a2a2a;stroke-width:0.12px" >84</text>
<path d="M449.2 402.3 v2.6" stroke="#333333" stroke-width="1.2"/>
<text x="449.2" y="415.9" text-anchor="middle" textLength="8.81" lengthAdjust="spacingAndGlyphs" style="font-size:9.0px;fill:#2a2a2a;stroke:#2a2a2a;stroke-width:0.12px" >96</text>
<path d="M465.6 402.3 v2.6" stroke="#333333" stroke-width="1.2"/>
<text x="465.6" y="415.9" text-anchor="middle" textLength="13.21" lengthAdjust="spacingAndGlyphs" style="font-size:9.0px;fill:#2a2a2a;stroke:#2a2a2a;stroke-width:0.12px" >108</text>
<path d="M482 402.3 v2.6" stroke="#333333" stroke-width="1.2"/>
<text x="482" y="415.9" text-anchor="middle" textLength="13.21" lengthAdjust="spacingAndGlyphs" style="font-size:9.0px;fill:#2a2a2a;stroke:#2a2a2a;stroke-width:0.12px" >120</text>
<path d="M498.4 402.3 v2.6" stroke="#333333" stroke-width="1.2"/>
<text x="498.4" y="415.9" text-anchor="middle" textLength="13.21" lengthAdjust="spacingAndGlyphs" style="font-size:9.0px;fill:#2a2a2a;stroke:#2a2a2a;stroke-width:0.12px" >132</text>
<text x="411.75" y="430" text-anchor="middle" textLength="101.3" lengthAdjust="spacingAndGlyphs" style="font-size:9.8px;fill:#2a2a2a;stroke:#2a2a2a;stroke-width:0.0px" >Months since randomization</text>
<g transform="translate(276.1 329.8) rotate(-90)">
<text x="0" y="0" text-anchor="middle" textLength="51.9" lengthAdjust="spacingAndGlyphs" style="font-size:9.8px;fill:#2a2a2a;stroke:#2a2a2a;stroke-width:0.0px" >OS probability</text>
</g>
<text x="318" y="443" text-anchor="middle" textLength="9.31" lengthAdjust="spacingAndGlyphs" style="font-size:9.0px;fill:#b0183d;stroke:#b0183d;stroke-width:0.12px" >91</text>
<text x="334.4" y="443" text-anchor="middle" textLength="9.31" lengthAdjust="spacingAndGlyphs" style="font-size:9.0px;fill:#b0183d;stroke:#b0183d;stroke-width:0.12px" >87</text>
<text x="350.8" y="443" text-anchor="middle" textLength="9.31" lengthAdjust="spacingAndGlyphs" style="font-size:9.0px;fill:#b0183d;stroke:#b0183d;stroke-width:0.12px" >76</text>
<text x="367.2" y="443" text-anchor="middle" textLength="9.31" lengthAdjust="spacingAndGlyphs" style="font-size:9.0px;fill:#b0183d;stroke:#b0183d;stroke-width:0.12px" >64</text>
<text x="383.6" y="443" text-anchor="middle" textLength="9.31" lengthAdjust="spacingAndGlyphs" style="font-size:9.0px;fill:#b0183d;stroke:#b0183d;stroke-width:0.12px" >52</text>
<text x="400" y="443" text-anchor="middle" textLength="9.31" lengthAdjust="spacingAndGlyphs" style="font-size:9.0px;fill:#b0183d;stroke:#b0183d;stroke-width:0.12px" >43</text>
<text x="416.4" y="443" text-anchor="middle" textLength="9.31" lengthAdjust="spacingAndGlyphs" style="font-size:9.0px;fill:#b0183d;stroke:#b0183d;stroke-width:0.12px" >34</text>
<text x="432.8" y="443" text-anchor="middle" textLength="9.31" lengthAdjust="spacingAndGlyphs" style="font-size:9.0px;fill:#b0183d;stroke:#b0183d;stroke-width:0.12px" >26</text>
<text x="449.2" y="443" text-anchor="middle" textLength="9.31" lengthAdjust="spacingAndGlyphs" style="font-size:9.0px;fill:#b0183d;stroke:#b0183d;stroke-width:0.12px" >14</text>
<text x="465.6" y="443" text-anchor="middle" textLength="4.66" lengthAdjust="spacingAndGlyphs" style="font-size:9.0px;fill:#b0183d;stroke:#b0183d;stroke-width:0.12px" >7</text>
<text x="482" y="443" text-anchor="middle" textLength="4.66" lengthAdjust="spacingAndGlyphs" style="font-size:9.0px;fill:#b0183d;stroke:#b0183d;stroke-width:0.12px" >1</text>
<text x="498.4" y="443" text-anchor="middle" textLength="4.66" lengthAdjust="spacingAndGlyphs" style="font-size:9.0px;fill:#b0183d;stroke:#b0183d;stroke-width:0.12px" >1</text>
<text x="318" y="455.5" text-anchor="middle" textLength="9.31" lengthAdjust="spacingAndGlyphs" style="font-size:9.0px;fill:#234364;stroke:#234364;stroke-width:0.12px" >93</text>
<text x="334.4" y="455.5" text-anchor="middle" textLength="9.31" lengthAdjust="spacingAndGlyphs" style="font-size:9.0px;fill:#234364;stroke:#234364;stroke-width:0.12px" >88</text>
<text x="350.8" y="455.5" text-anchor="middle" textLength="9.31" lengthAdjust="spacingAndGlyphs" style="font-size:9.0px;fill:#234364;stroke:#234364;stroke-width:0.12px" >77</text>
<text x="367.2" y="455.5" text-anchor="middle" textLength="9.31" lengthAdjust="spacingAndGlyphs" style="font-size:9.0px;fill:#234364;stroke:#234364;stroke-width:0.12px" >67</text>
<text x="383.6" y="455.5" text-anchor="middle" textLength="9.31" lengthAdjust="spacingAndGlyphs" style="font-size:9.0px;fill:#234364;stroke:#234364;stroke-width:0.12px" >57</text>
<text x="400" y="455.5" text-anchor="middle" textLength="9.31" lengthAdjust="spacingAndGlyphs" style="font-size:9.0px;fill:#234364;stroke:#234364;stroke-width:0.12px" >49</text>
<text x="416.4" y="455.5" text-anchor="middle" textLength="9.31" lengthAdjust="spacingAndGlyphs" style="font-size:9.0px;fill:#234364;stroke:#234364;stroke-width:0.12px" >44</text>
<text x="432.8" y="455.5" text-anchor="middle" textLength="9.31" lengthAdjust="spacingAndGlyphs" style="font-size:9.0px;fill:#234364;stroke:#234364;stroke-width:0.12px" >32</text>
<text x="449.2" y="455.5" text-anchor="middle" textLength="9.31" lengthAdjust="spacingAndGlyphs" style="font-size:9.0px;fill:#234364;stroke:#234364;stroke-width:0.12px" >24</text>
<text x="465.6" y="455.5" text-anchor="middle" textLength="8.69" lengthAdjust="spacingAndGlyphs" style="font-size:9.0px;fill:#234364;stroke:#234364;stroke-width:0.12px" >11</text>
<text x="482" y="455.5" text-anchor="middle" textLength="4.66" lengthAdjust="spacingAndGlyphs" style="font-size:9.0px;fill:#234364;stroke:#234364;stroke-width:0.12px" >2</text>
<text x="498.4" y="455.5" text-anchor="middle" textLength="4.66" lengthAdjust="spacingAndGlyphs" style="font-size:9.0px;fill:#234364;stroke:#234364;stroke-width:0.12px" >1</text>
<text x="318" y="468" text-anchor="middle" textLength="9.31" lengthAdjust="spacingAndGlyphs" style="font-size:9.0px;fill:#48a848;stroke:#48a848;stroke-width:0.12px" >75</text>
<text x="334.4" y="468" text-anchor="middle" textLength="9.31" lengthAdjust="spacingAndGlyphs" style="font-size:9.0px;fill:#48a848;stroke:#48a848;stroke-width:0.12px" >72</text>
<text x="350.8" y="468" text-anchor="middle" textLength="9.31" lengthAdjust="spacingAndGlyphs" style="font-size:9.0px;fill:#48a848;stroke:#48a848;stroke-width:0.12px" >68</text>
<text x="367.2" y="468" text-anchor="middle" textLength="9.31" lengthAdjust="spacingAndGlyphs" style="font-size:9.0px;fill:#48a848;stroke:#48a848;stroke-width:0.12px" >62</text>
<text x="383.6" y="468" text-anchor="middle" textLength="9.31" lengthAdjust="spacingAndGlyphs" style="font-size:9.0px;fill:#48a848;stroke:#48a848;stroke-width:0.12px" >55</text>
<text x="400" y="468" text-anchor="middle" textLength="9.31" lengthAdjust="spacingAndGlyphs" style="font-size:9.0px;fill:#48a848;stroke:#48a848;stroke-width:0.12px" >49</text>
<text x="416.4" y="468" text-anchor="middle" textLength="9.31" lengthAdjust="spacingAndGlyphs" style="font-size:9.0px;fill:#48a848;stroke:#48a848;stroke-width:0.12px" >42</text>
<text x="432.8" y="468" text-anchor="middle" textLength="9.31" lengthAdjust="spacingAndGlyphs" style="font-size:9.0px;fill:#48a848;stroke:#48a848;stroke-width:0.12px" >34</text>
<text x="449.2" y="468" text-anchor="middle" textLength="9.31" lengthAdjust="spacingAndGlyphs" style="font-size:9.0px;fill:#48a848;stroke:#48a848;stroke-width:0.12px" >19</text>
<text x="465.6" y="468" text-anchor="middle" textLength="8.69" lengthAdjust="spacingAndGlyphs" style="font-size:9.0px;fill:#48a848;stroke:#48a848;stroke-width:0.12px" >11</text>
<text x="482" y="468" text-anchor="middle" textLength="4.66" lengthAdjust="spacingAndGlyphs" style="font-size:9.0px;fill:#48a848;stroke:#48a848;stroke-width:0.12px" >3</text>
<text x="498.4" y="468" text-anchor="middle" textLength="4.66" lengthAdjust="spacingAndGlyphs" style="font-size:9.0px;fill:#48a848;stroke:#48a848;stroke-width:0.12px" >0</text>
<text x="470.6" y="272.8" text-anchor="start" textLength="31.5" lengthAdjust="spacingAndGlyphs" style="font-size:8.7px;fill:#2a2a2a;stroke:#2a2a2a;stroke-width:0.0px" ><tspan font-style="italic">P</tspan> = .009</text>
<path d="M318 261.5 H319.22 V262.27 H321.65 V263.03 H324.08 V263.8 H325.3 H325.5 V265.7 H325.7 H326.85 V266.8 H328 H329.55 V267.6 H331.1 H332.65 V268 H334.2 H334.95 V270.3 H335.7 H336.45 V273 H337.2 H338 V274.5 H338.8 H340.3 H340.7 V276.5 H341.1 H342.25 V276.65 H344.55 V276.8 H345.7 H346.45 V279.2 H347.2 H348.35 V281.1 H349.5 H350.65 V284.2 H351.8 H353 V285.3 H354.2 H355.35 V287.6 H356.5 H357.3 H358.45 V289.9 H359.6 H360.75 V291.8 H361.9 H363.05 V293.8 H364.2 H365.35 V295.7 H366.5 H366.9 V298.8 H367.3 H367.7 V301.2 H368.1 H368.28 V303.1 H368.62 V305 H368.8 H370 V307.7 H371.2 H372.35 V309.2 H373.5 H374.65 V311.5 H375.8 H376.75 V313.8 H377.7 H378.85 V315.4 H380 H381.35 V316.9 H382.7 H383.65 V318.5 H384.6 H385.2 V321.5 H385.8 H386.95 V322.7 H388.1 H389.65 V323.8 H391.2 H392.15 V325.8 H393.1 H393.65 V327.7 H394.2 H395.75 V328.5 H397.3 H398.25 V330.8 H399.2 H400.35 V333 H401.5 H401.83 V334.93 H402.5 V336.87 H403.17 V338.8 H403.5 H404.45 V340.3 H405.4 H406.55 V341.1 H407.7 H408.65 V343.8 H409.6 H410.64 V343.88 H412.72 V343.96 H414.8 V344.04 H416.88 V344.12 H418.96 V344.2 H420 H420.6 V345.3 H421.2 H424.6 H425.55 V346.8 H426.5 H427.1 V348.4 H427.7 H429.05 V349.5 H430.4 H430.95 V350.7 H431.5 H432.65 V351.1 H433.8 H434.6 V353 H435.4 H436.55 V354.5 H437.7 H438.85 V355.8 H440 H449.2 H449.98 V357.7 H451.52 V359.6 H452.3 H453.07 V362.3 H454.62 V365 H455.4 H472.7 V371.7 H500.6" fill="none" stroke="#b0183d" stroke-width="1.3"/>
<path d="M318 261.5 H319.22 V261.87 H321.65 V262.23 H324.08 V262.6 H325.3 H326.18 V263.95 H327.93 V265.3 H328.8 H329.95 V265.5 H332.25 V265.7 H333.4 H334.15 V268 H334.9 H335.7 V270.7 H336.5 H337.05 V272.6 H337.6 H338.4 V274.2 H339.2 H341.1 H341.45 V276.1 H341.8 H343.35 V276.5 H344.9 H345.7 V278.4 H346.5 H346.77 V280.1 H347.33 V281.8 H347.6 H348.2 V283.8 H348.8 H349.95 V284.2 H351.1 H351.65 V285.3 H352.2 H354.2 H354.75 V286.8 H355.3 H356.3 V289.2 H357.3 H357.7 V291.5 H358.1 H358.85 V293.4 H359.6 H360.75 V295.3 H361.9 H363.05 V296.8 H364.2 H365.35 V298.4 H366.5 H367.5 V299.9 H368.5 H369.45 V300.7 H370.4 H371.55 V302.2 H372.7 H373.85 V303 H375 H375.95 V303.4 H376.9 H377.5 V305.7 H378.1 H378.85 V308.1 H379.6 H380.75 V309.2 H381.9 H382.5 V311.2 H383.1 H383.65 V314.2 H384.2 H385 V315.8 H385.8 H390.8 H391.15 V318.1 H391.5 H392.1 V320.8 H392.7 H395.8 H396.95 V321.5 H398.1 H399.25 V322.7 H400.4 H401.55 V323.5 H402.7 H403.65 V324.6 H404.6 H405.75 V324.8 H408.05 V325 H409.2 H410.75 V326.5 H412.3 H413.45 V328.5 H414.6 H415.58 V328.85 H417.52 V329.2 H418.5 H419.65 V329.3 H421.95 V329.4 H424.25 V329.5 H425.4 H426.15 V331.1 H426.9 H428.25 V332.6 H429.6 H430.2 V335.7 H430.8 H431.15 V338.8 H431.5 H432.65 V339.5 H433.8 H434.6 V340.7 H435.4 H449.2 H450 V343.1 H450.8 H463.8 H463.88 V345.25 H464.02 V347.4 H464.18 V349.55 H464.32 V351.7 H464.4 H479.6 H479.67 V353.86 H479.81 V356.02 H479.95 V358.18 H480.09 V360.34 H480.23 V362.5 H480.3 H480.36 V364.88 H480.48 V367.26 H480.6 V369.64 H480.72 V372.02 H480.84 V374.4 H480.9 H505.6" fill="none" stroke="#234364" stroke-width="1.3"/>
<path d="M318 261.5 H328 H328.2 V263.8 H328.4 H329.62 V264.3 H332.05 V264.8 H334.48 V265.3 H335.7 H336.1 V266.8 H336.5 H337.52 V266.93 H339.55 V267.07 H341.58 V267.2 H342.6 H343 V268.8 H343.4 H344.55 V269.9 H345.7 H346.85 V270.1 H349.15 V270.3 H350.3 H351.65 V270.7 H354.35 V271.1 H355.7 H355.9 V272.6 H356.1 H357.1 V273.4 H358.1 H358.45 V275.7 H358.8 H360.35 V276.5 H361.9 H362.7 V278 H363.5 H364.65 V279.2 H365.8 H366.55 V281.5 H367.3 H367.9 V283.4 H368.5 H369.85 V283.8 H371.2 H371.95 V285.7 H372.7 H373.45 V287.2 H374.2 H375.75 V288 H377.3 H378.05 V289.2 H378.8 H380 V290.7 H381.2 H381.95 V292.2 H382.7 H383.45 V293.4 H384.2 H385.35 V294.5 H386.5 H387.3 V295.7 H388.1 H389.25 V297.2 H390.4 H391.45 V298.8 H392.5 H397.3 H398.05 V301.2 H398.8 H398.95 V302.9 H399.25 V304.6 H399.4 H403.1 H403.45 V307.7 H403.8 H405 V308.5 H406.2 H406.38 V310.2 H406.72 V311.9 H406.9 H408.05 V312.1 H410.35 V312.3 H411.5 H412.1 V314.6 H412.7 H413.65 V316.2 H414.6 H415.55 V317.7 H416.5 H417.47 V317.83 H419.4 V317.97 H421.33 V318.1 H422.3 H423.45 V318.8 H424.6 H425.4 V320.4 H426.2 H428.5 H429.05 V322.3 H429.6 H436.9 H437.5 V325.4 H438.1 H438.65 V327.7 H439.2 H440.35 V328.8 H441.5 H442.3 V330.8 H443.1 H477.7 H477.74 V333.18 H477.81 V335.55 H477.89 V337.93 H477.96 V340.3 H478 H491.7 V398" fill="none" stroke="#48a848" stroke-width="1.3"/>
<path d="M450 329.2 v3.2" stroke="#48a848" stroke-width="0.9"/>
<path d="M456 329.2 v3.2" stroke="#48a848" stroke-width="0.9"/>
<path d="M462 329.2 v3.2" stroke="#48a848" stroke-width="0.9"/>
<path d="M466 329.2 v3.2" stroke="#48a848" stroke-width="0.9"/>
<path d="M470 329.2 v3.2" stroke="#48a848" stroke-width="0.9"/>
<path d="M474 329.2 v3.2" stroke="#48a848" stroke-width="0.9"/>
<path d="M484 338.7 v3.2" stroke="#48a848" stroke-width="0.9"/>
<path d="M488 338.7 v3.2" stroke="#48a848" stroke-width="0.9"/>
<path d="M438 339.1 v3.2" stroke="#234364" stroke-width="0.9"/>
<path d="M443 339.1 v3.2" stroke="#234364" stroke-width="0.9"/>
<path d="M455 341.5 v3.2" stroke="#234364" stroke-width="0.9"/>
<path d="M460 341.5 v3.2" stroke="#234364" stroke-width="0.9"/>
<path d="M467 350.1 v3.2" stroke="#234364" stroke-width="0.9"/>
<path d="M472 350.1 v3.2" stroke="#234364" stroke-width="0.9"/>
<path d="M476 350.1 v3.2" stroke="#234364" stroke-width="0.9"/>
<path d="M486 372.8 v3.2" stroke="#234364" stroke-width="0.9"/>
<path d="M500 372.8 v3.2" stroke="#234364" stroke-width="0.9"/>
<path d="M462 363.4 v3.2" stroke="#b0183d" stroke-width="0.9"/>
<path d="M467 363.4 v3.2" stroke="#b0183d" stroke-width="0.9"/>
<path d="M478 370.1 v3.2" stroke="#b0183d" stroke-width="0.9"/>
<path d="M484 370.1 v3.2" stroke="#b0183d" stroke-width="0.9"/>
<path d="M488 370.1 v3.2" stroke="#b0183d" stroke-width="0.9"/>
<path d="M492 370.1 v3.2" stroke="#b0183d" stroke-width="0.9"/>
<path d="M496 370.1 v3.2" stroke="#b0183d" stroke-width="0.9"/>
<text x="8" y="497.3" text-anchor="start" textLength="8.96" lengthAdjust="spacingAndGlyphs" style="font-size:12.4px;fill:#000;stroke:#000;stroke-width:0.45px;font-weight:bold" >C</text>
<path d="M49 503.8 V648.8 H251.5" fill="none" stroke="#333333" stroke-width="1.45"/>
<path d="M46.2 508.4 H49" stroke="#333333" stroke-width="1.2"/>
<text x="42.7" y="511.3" text-anchor="end" textLength="20.26" lengthAdjust="spacingAndGlyphs" style="font-size:9.0px;fill:#2a2a2a;stroke:#2a2a2a;stroke-width:0.12px" >100%</text>
<path d="M46.2 542.3 H49" stroke="#333333" stroke-width="1.2"/>
<text x="42.7" y="545.2" text-anchor="end" textLength="15.85" lengthAdjust="spacingAndGlyphs" style="font-size:9.0px;fill:#2a2a2a;stroke:#2a2a2a;stroke-width:0.12px" >75%</text>
<path d="M46.2 576.2 H49" stroke="#333333" stroke-width="1.2"/>
<text x="42.7" y="579.1" text-anchor="end" textLength="15.85" lengthAdjust="spacingAndGlyphs" style="font-size:9.0px;fill:#2a2a2a;stroke:#2a2a2a;stroke-width:0.12px" >50%</text>
<path d="M46.2 610.1 H49" stroke="#333333" stroke-width="1.2"/>
<text x="42.7" y="613" text-anchor="end" textLength="15.85" lengthAdjust="spacingAndGlyphs" style="font-size:9.0px;fill:#2a2a2a;stroke:#2a2a2a;stroke-width:0.12px" >25%</text>
<path d="M46.2 644 H49" stroke="#333333" stroke-width="1.2"/>
<text x="42.7" y="646.9" text-anchor="end" textLength="11.45" lengthAdjust="spacingAndGlyphs" style="font-size:9.0px;fill:#2a2a2a;stroke:#2a2a2a;stroke-width:0.12px" >0%</text>
<path d="M56.5 648.8 v2.6" stroke="#333333" stroke-width="1.2"/>
<text x="56.5" y="662.4" text-anchor="middle" textLength="4.4" lengthAdjust="spacingAndGlyphs" style="font-size:9.0px;fill:#2a2a2a;stroke:#2a2a2a;stroke-width:0.12px" >0</text>
<path d="M75 648.8 v2.6" stroke="#333333" stroke-width="1.2"/>
<text x="75" y="662.4" text-anchor="middle" textLength="8.81" lengthAdjust="spacingAndGlyphs" style="font-size:9.0px;fill:#2a2a2a;stroke:#2a2a2a;stroke-width:0.12px" >12</text>
<path d="M93.5 648.8 v2.6" stroke="#333333" stroke-width="1.2"/>
<text x="93.5" y="662.4" text-anchor="middle" textLength="8.81" lengthAdjust="spacingAndGlyphs" style="font-size:9.0px;fill:#2a2a2a;stroke:#2a2a2a;stroke-width:0.12px" >24</text>
<path d="M112 648.8 v2.6" stroke="#333333" stroke-width="1.2"/>
<text x="112" y="662.4" text-anchor="middle" textLength="8.81" lengthAdjust="spacingAndGlyphs" style="font-size:9.0px;fill:#2a2a2a;stroke:#2a2a2a;stroke-width:0.12px" >36</text>
<path d="M130.5 648.8 v2.6" stroke="#333333" stroke-width="1.2"/>
<text x="130.5" y="662.4" text-anchor="middle" textLength="8.81" lengthAdjust="spacingAndGlyphs" style="font-size:9.0px;fill:#2a2a2a;stroke:#2a2a2a;stroke-width:0.12px" >48</text>
<path d="M149 648.8 v2.6" stroke="#333333" stroke-width="1.2"/>
<text x="149" y="662.4" text-anchor="middle" textLength="8.81" lengthAdjust="spacingAndGlyphs" style="font-size:9.0px;fill:#2a2a2a;stroke:#2a2a2a;stroke-width:0.12px" >60</text>
<path d="M167.5 648.8 v2.6" stroke="#333333" stroke-width="1.2"/>
<text x="167.5" y="662.4" text-anchor="middle" textLength="8.81" lengthAdjust="spacingAndGlyphs" style="font-size:9.0px;fill:#2a2a2a;stroke:#2a2a2a;stroke-width:0.12px" >72</text>
<path d="M186 648.8 v2.6" stroke="#333333" stroke-width="1.2"/>
<text x="186" y="662.4" text-anchor="middle" textLength="8.81" lengthAdjust="spacingAndGlyphs" style="font-size:9.0px;fill:#2a2a2a;stroke:#2a2a2a;stroke-width:0.12px" >84</text>
<path d="M204.5 648.8 v2.6" stroke="#333333" stroke-width="1.2"/>
<text x="204.5" y="662.4" text-anchor="middle" textLength="8.81" lengthAdjust="spacingAndGlyphs" style="font-size:9.0px;fill:#2a2a2a;stroke:#2a2a2a;stroke-width:0.12px" >96</text>
<path d="M223 648.8 v2.6" stroke="#333333" stroke-width="1.2"/>
<text x="223" y="662.4" text-anchor="middle" textLength="13.21" lengthAdjust="spacingAndGlyphs" style="font-size:9.0px;fill:#2a2a2a;stroke:#2a2a2a;stroke-width:0.12px" >108</text>
<path d="M241.5 648.8 v2.6" stroke="#333333" stroke-width="1.2"/>
<text x="241.5" y="662.4" text-anchor="middle" textLength="13.21" lengthAdjust="spacingAndGlyphs" style="font-size:9.0px;fill:#2a2a2a;stroke:#2a2a2a;stroke-width:0.12px" >120</text>
<text x="150.25" y="676.5" text-anchor="middle" textLength="101.3" lengthAdjust="spacingAndGlyphs" style="font-size:9.8px;fill:#2a2a2a;stroke:#2a2a2a;stroke-width:0.0px" >Months since randomization</text>
<g transform="translate(14.6 576.3) rotate(-90)">
<text x="0" y="0" text-anchor="middle" textLength="53.3" lengthAdjust="spacingAndGlyphs" style="font-size:9.8px;fill:#2a2a2a;stroke:#2a2a2a;stroke-width:0.0px" >PFS probability</text>
</g>
<text x="56.5" y="689.5" text-anchor="middle" textLength="9.31" lengthAdjust="spacingAndGlyphs" style="font-size:9.0px;fill:#b0183d;stroke:#b0183d;stroke-width:0.12px" >32</text>
<text x="75" y="689.5" text-anchor="middle" textLength="9.31" lengthAdjust="spacingAndGlyphs" style="font-size:9.0px;fill:#b0183d;stroke:#b0183d;stroke-width:0.12px" >23</text>
<text x="93.5" y="689.5" text-anchor="middle" textLength="9.31" lengthAdjust="spacingAndGlyphs" style="font-size:9.0px;fill:#b0183d;stroke:#b0183d;stroke-width:0.12px" >18</text>
<text x="112" y="689.5" text-anchor="middle" textLength="9.31" lengthAdjust="spacingAndGlyphs" style="font-size:9.0px;fill:#b0183d;stroke:#b0183d;stroke-width:0.12px" >13</text>
<text x="130.5" y="689.5" text-anchor="middle" textLength="8.69" lengthAdjust="spacingAndGlyphs" style="font-size:9.0px;fill:#b0183d;stroke:#b0183d;stroke-width:0.12px" >11</text>
<text x="149" y="689.5" text-anchor="middle" textLength="4.66" lengthAdjust="spacingAndGlyphs" style="font-size:9.0px;fill:#b0183d;stroke:#b0183d;stroke-width:0.12px" >9</text>
<text x="167.5" y="689.5" text-anchor="middle" textLength="4.66" lengthAdjust="spacingAndGlyphs" style="font-size:9.0px;fill:#b0183d;stroke:#b0183d;stroke-width:0.12px" >7</text>
<text x="186" y="689.5" text-anchor="middle" textLength="4.66" lengthAdjust="spacingAndGlyphs" style="font-size:9.0px;fill:#b0183d;stroke:#b0183d;stroke-width:0.12px" >3</text>
<text x="204.5" y="689.5" text-anchor="middle" textLength="4.66" lengthAdjust="spacingAndGlyphs" style="font-size:9.0px;fill:#b0183d;stroke:#b0183d;stroke-width:0.12px" >2</text>
<text x="223" y="689.5" text-anchor="middle" textLength="4.66" lengthAdjust="spacingAndGlyphs" style="font-size:9.0px;fill:#b0183d;stroke:#b0183d;stroke-width:0.12px" >2</text>
<text x="241.5" y="689.5" text-anchor="middle" textLength="4.66" lengthAdjust="spacingAndGlyphs" style="font-size:9.0px;fill:#b0183d;stroke:#b0183d;stroke-width:0.12px" >1</text>
<text x="56.5" y="702" text-anchor="middle" textLength="9.31" lengthAdjust="spacingAndGlyphs" style="font-size:9.0px;fill:#234364;stroke:#234364;stroke-width:0.12px" >43</text>
<text x="75" y="702" text-anchor="middle" textLength="9.31" lengthAdjust="spacingAndGlyphs" style="font-size:9.0px;fill:#234364;stroke:#234364;stroke-width:0.12px" >37</text>
<text x="93.5" y="702" text-anchor="middle" textLength="9.31" lengthAdjust="spacingAndGlyphs" style="font-size:9.0px;fill:#234364;stroke:#234364;stroke-width:0.12px" >26</text>
<text x="112" y="702" text-anchor="middle" textLength="9.31" lengthAdjust="spacingAndGlyphs" style="font-size:9.0px;fill:#234364;stroke:#234364;stroke-width:0.12px" >17</text>
<text x="130.5" y="702" text-anchor="middle" textLength="9.31" lengthAdjust="spacingAndGlyphs" style="font-size:9.0px;fill:#234364;stroke:#234364;stroke-width:0.12px" >14</text>
<text x="149" y="702" text-anchor="middle" textLength="9.31" lengthAdjust="spacingAndGlyphs" style="font-size:9.0px;fill:#234364;stroke:#234364;stroke-width:0.12px" >12</text>
<text x="167.5" y="702" text-anchor="middle" textLength="4.66" lengthAdjust="spacingAndGlyphs" style="font-size:9.0px;fill:#234364;stroke:#234364;stroke-width:0.12px" >8</text>
<text x="186" y="702" text-anchor="middle" textLength="4.66" lengthAdjust="spacingAndGlyphs" style="font-size:9.0px;fill:#234364;stroke:#234364;stroke-width:0.12px" >6</text>
<text x="204.5" y="702" text-anchor="middle" textLength="4.66" lengthAdjust="spacingAndGlyphs" style="font-size:9.0px;fill:#234364;stroke:#234364;stroke-width:0.12px" >3</text>
<text x="223" y="702" text-anchor="middle" textLength="4.66" lengthAdjust="spacingAndGlyphs" style="font-size:9.0px;fill:#234364;stroke:#234364;stroke-width:0.12px" >0</text>
<text x="241.5" y="702" text-anchor="middle" textLength="4.66" lengthAdjust="spacingAndGlyphs" style="font-size:9.0px;fill:#234364;stroke:#234364;stroke-width:0.12px" >0</text>
<text x="116.2" y="521.2" text-anchor="start" textLength="128.4" lengthAdjust="spacingAndGlyphs" style="font-size:8.7px;fill:#2a2a2a;stroke:#2a2a2a;stroke-width:0.0px" >HR 1.0; 95% CI 0.59-1.67; <tspan font-style="italic">P</tspan> = .99</text>
<path d="M153.8 551.8 H169.7" stroke="#b0183d" stroke-width="1.3"/>
<path d="M153.8 565.8 H169.7" stroke="#234364" stroke-width="1.3"/>
<text x="173.4" y="554.6" text-anchor="start" textLength="46" lengthAdjust="spacingAndGlyphs" style="font-size:9.0px;fill:#2a2a2a;stroke:#2a2a2a;stroke-width:0.0px" >Control arm</text>
<text x="173.4" y="568.6" text-anchor="start" textLength="57.8" lengthAdjust="spacingAndGlyphs" style="font-size:9.0px;fill:#2a2a2a;stroke:#2a2a2a;stroke-width:0.0px" >Transplant arm</text>
<path d="M57.1 508.6 H60.5 V511.7 H62.1 V514.4 H64.8 V529.4 H70.5 V533.6 H73.3 V542.4 H77.4 V547.1 H80.5 V551.4 H84.2 V556 H87.7 V560.2 H94.6 V565 H107.5 V569.2 H111 V575.4 H111.9 V579.2 H112.7 V581.9 H113.8 V584.6 H114.4 V587.7 H120.5 V593.1 H130.8 V597.7 H136.6 V602.2 H152.7 V606.5 H155.6 V611.2 H176.7 V617.1 H187.8 V626.2 H243.5 V644.5" fill="none" stroke="#b0183d" stroke-width="1.3"/>
<path d="M57.1 508.6 H60.5 V511.7 H62.1 V514.4 H65.5 V517.1 H68.2 V520.5 H71.7 V524.2 H77.8 V530.2 H80.2 V533.2 H81.3 V537.4 H86.2 V544.2 H90.7 V551.1 H95.6 V553.8 H96.9 V555.4 H97.7 V558.1 H98.5 V560 V565 H100.4 V572.3 H107.5 V575.4 H109.6 V576.2 H110.4 V579.2 H111.9 V580.8 H112.7 V583.8 H113.3 V587.6 H123.5 V591.5 H136.6 V595 H145.8 V598.6 H152.7 V606.5 H158.9 V610.4 H164.7 V613.8 H171.4 V617.6 H199.8 V623.5 H213.2 V630.4 H218.2 V644.5" fill="none" stroke="#234364" stroke-width="1.3"/>
<path d="M194 615.8 v3.2" stroke="#234364" stroke-width="0.9"/>
<path d="M238 624.5 v3.2" stroke="#b0183d" stroke-width="0.9"/>
<path d="M310.5 503.8 V648.8 H513" fill="none" stroke="#333333" stroke-width="1.45"/>
<path d="M307.7 508.4 H310.5" stroke="#333333" stroke-width="1.2"/>
<text x="304.2" y="511.3" text-anchor="end" textLength="20.26" lengthAdjust="spacingAndGlyphs" style="font-size:9.0px;fill:#2a2a2a;stroke:#2a2a2a;stroke-width:0.12px" >100%</text>
<path d="M307.7 542.3 H310.5" stroke="#333333" stroke-width="1.2"/>
<text x="304.2" y="545.2" text-anchor="end" textLength="15.85" lengthAdjust="spacingAndGlyphs" style="font-size:9.0px;fill:#2a2a2a;stroke:#2a2a2a;stroke-width:0.12px" >75%</text>
<path d="M307.7 576.2 H310.5" stroke="#333333" stroke-width="1.2"/>
<text x="304.2" y="579.1" text-anchor="end" textLength="15.85" lengthAdjust="spacingAndGlyphs" style="font-size:9.0px;fill:#2a2a2a;stroke:#2a2a2a;stroke-width:0.12px" >50%</text>
<path d="M307.7 610.1 H310.5" stroke="#333333" stroke-width="1.2"/>
<text x="304.2" y="613" text-anchor="end" textLength="15.85" lengthAdjust="spacingAndGlyphs" style="font-size:9.0px;fill:#2a2a2a;stroke:#2a2a2a;stroke-width:0.12px" >25%</text>
<path d="M307.7 644 H310.5" stroke="#333333" stroke-width="1.2"/>
<text x="304.2" y="646.9" text-anchor="end" textLength="11.45" lengthAdjust="spacingAndGlyphs" style="font-size:9.0px;fill:#2a2a2a;stroke:#2a2a2a;stroke-width:0.12px" >0%</text>
<path d="M318 648.8 v2.6" stroke="#333333" stroke-width="1.2"/>
<text x="318" y="662.4" text-anchor="middle" textLength="4.4" lengthAdjust="spacingAndGlyphs" style="font-size:9.0px;fill:#2a2a2a;stroke:#2a2a2a;stroke-width:0.12px" >0</text>
<path d="M334.4 648.8 v2.6" stroke="#333333" stroke-width="1.2"/>
<text x="334.4" y="662.4" text-anchor="middle" textLength="8.81" lengthAdjust="spacingAndGlyphs" style="font-size:9.0px;fill:#2a2a2a;stroke:#2a2a2a;stroke-width:0.12px" >12</text>
<path d="M350.8 648.8 v2.6" stroke="#333333" stroke-width="1.2"/>
<text x="350.8" y="662.4" text-anchor="middle" textLength="8.81" lengthAdjust="spacingAndGlyphs" style="font-size:9.0px;fill:#2a2a2a;stroke:#2a2a2a;stroke-width:0.12px" >24</text>
<path d="M367.2 648.8 v2.6" stroke="#333333" stroke-width="1.2"/>
<text x="367.2" y="662.4" text-anchor="middle" textLength="8.81" lengthAdjust="spacingAndGlyphs" style="font-size:9.0px;fill:#2a2a2a;stroke:#2a2a2a;stroke-width:0.12px" >36</text>
<path d="M383.6 648.8 v2.6" stroke="#333333" stroke-width="1.2"/>
<text x="383.6" y="662.4" text-anchor="middle" textLength="8.81" lengthAdjust="spacingAndGlyphs" style="font-size:9.0px;fill:#2a2a2a;stroke:#2a2a2a;stroke-width:0.12px" >48</text>
<path d="M400 648.8 v2.6" stroke="#333333" stroke-width="1.2"/>
<text x="400" y="662.4" text-anchor="middle" textLength="8.81" lengthAdjust="spacingAndGlyphs" style="font-size:9.0px;fill:#2a2a2a;stroke:#2a2a2a;stroke-width:0.12px" >60</text>
<path d="M416.4 648.8 v2.6" stroke="#333333" stroke-width="1.2"/>
<text x="416.4" y="662.4" text-anchor="middle" textLength="8.81" lengthAdjust="spacingAndGlyphs" style="font-size:9.0px;fill:#2a2a2a;stroke:#2a2a2a;stroke-width:0.12px" >72</text>
<path d="M432.8 648.8 v2.6" stroke="#333333" stroke-width="1.2"/>
<text x="432.8" y="662.4" text-anchor="middle" textLength="8.81" lengthAdjust="spacingAndGlyphs" style="font-size:9.0px;fill:#2a2a2a;stroke:#2a2a2a;stroke-width:0.12px" >84</text>
<path d="M449.2 648.8 v2.6" stroke="#333333" stroke-width="1.2"/>
<text x="449.2" y="662.4" text-anchor="middle" textLength="8.81" lengthAdjust="spacingAndGlyphs" style="font-size:9.0px;fill:#2a2a2a;stroke:#2a2a2a;stroke-width:0.12px" >96</text>
<path d="M465.6 648.8 v2.6" stroke="#333333" stroke-width="1.2"/>
<text x="465.6" y="662.4" text-anchor="middle" textLength="13.21" lengthAdjust="spacingAndGlyphs" style="font-size:9.0px;fill:#2a2a2a;stroke:#2a2a2a;stroke-width:0.12px" >108</text>
<path d="M482 648.8 v2.6" stroke="#333333" stroke-width="1.2"/>
<text x="482" y="662.4" text-anchor="middle" textLength="13.21" lengthAdjust="spacingAndGlyphs" style="font-size:9.0px;fill:#2a2a2a;stroke:#2a2a2a;stroke-width:0.12px" >120</text>
<path d="M498.4 648.8 v2.6" stroke="#333333" stroke-width="1.2"/>
<text x="498.4" y="662.4" text-anchor="middle" textLength="13.21" lengthAdjust="spacingAndGlyphs" style="font-size:9.0px;fill:#2a2a2a;stroke:#2a2a2a;stroke-width:0.12px" >132</text>
<text x="411.75" y="676.5" text-anchor="middle" textLength="101.3" lengthAdjust="spacingAndGlyphs" style="font-size:9.8px;fill:#2a2a2a;stroke:#2a2a2a;stroke-width:0.0px" >Months since randomization</text>
<g transform="translate(276.1 576.3) rotate(-90)">
<text x="0" y="0" text-anchor="middle" textLength="51.9" lengthAdjust="spacingAndGlyphs" style="font-size:9.8px;fill:#2a2a2a;stroke:#2a2a2a;stroke-width:0.0px" >OS probability</text>
</g>
<text x="318" y="689.5" text-anchor="middle" textLength="9.31" lengthAdjust="spacingAndGlyphs" style="font-size:9.0px;fill:#b0183d;stroke:#b0183d;stroke-width:0.12px" >32</text>
<text x="334.4" y="689.5" text-anchor="middle" textLength="9.31" lengthAdjust="spacingAndGlyphs" style="font-size:9.0px;fill:#b0183d;stroke:#b0183d;stroke-width:0.12px" >30</text>
<text x="350.8" y="689.5" text-anchor="middle" textLength="9.31" lengthAdjust="spacingAndGlyphs" style="font-size:9.0px;fill:#b0183d;stroke:#b0183d;stroke-width:0.12px" >28</text>
<text x="367.2" y="689.5" text-anchor="middle" textLength="9.31" lengthAdjust="spacingAndGlyphs" style="font-size:9.0px;fill:#b0183d;stroke:#b0183d;stroke-width:0.12px" >26</text>
<text x="383.6" y="689.5" text-anchor="middle" textLength="9.31" lengthAdjust="spacingAndGlyphs" style="font-size:9.0px;fill:#b0183d;stroke:#b0183d;stroke-width:0.12px" >22</text>
<text x="400" y="689.5" text-anchor="middle" textLength="9.31" lengthAdjust="spacingAndGlyphs" style="font-size:9.0px;fill:#b0183d;stroke:#b0183d;stroke-width:0.12px" >20</text>
<text x="416.4" y="689.5" text-anchor="middle" textLength="9.31" lengthAdjust="spacingAndGlyphs" style="font-size:9.0px;fill:#b0183d;stroke:#b0183d;stroke-width:0.12px" >17</text>
<text x="432.8" y="689.5" text-anchor="middle" textLength="9.31" lengthAdjust="spacingAndGlyphs" style="font-size:9.0px;fill:#b0183d;stroke:#b0183d;stroke-width:0.12px" >12</text>
<text x="449.2" y="689.5" text-anchor="middle" textLength="4.66" lengthAdjust="spacingAndGlyphs" style="font-size:9.0px;fill:#b0183d;stroke:#b0183d;stroke-width:0.12px" >5</text>
<text x="465.6" y="689.5" text-anchor="middle" textLength="4.66" lengthAdjust="spacingAndGlyphs" style="font-size:9.0px;fill:#b0183d;stroke:#b0183d;stroke-width:0.12px" >3</text>
<text x="482" y="689.5" text-anchor="middle" textLength="4.66" lengthAdjust="spacingAndGlyphs" style="font-size:9.0px;fill:#b0183d;stroke:#b0183d;stroke-width:0.12px" >2</text>
<text x="498.4" y="689.5" text-anchor="middle" textLength="4.66" lengthAdjust="spacingAndGlyphs" style="font-size:9.0px;fill:#b0183d;stroke:#b0183d;stroke-width:0.12px" >0</text>
<text x="318" y="702" text-anchor="middle" textLength="9.31" lengthAdjust="spacingAndGlyphs" style="font-size:9.0px;fill:#234364;stroke:#234364;stroke-width:0.12px" >43</text>
<text x="334.4" y="702" text-anchor="middle" textLength="9.31" lengthAdjust="spacingAndGlyphs" style="font-size:9.0px;fill:#234364;stroke:#234364;stroke-width:0.12px" >42</text>
<text x="350.8" y="702" text-anchor="middle" textLength="9.31" lengthAdjust="spacingAndGlyphs" style="font-size:9.0px;fill:#234364;stroke:#234364;stroke-width:0.12px" >40</text>
<text x="367.2" y="702" text-anchor="middle" textLength="9.31" lengthAdjust="spacingAndGlyphs" style="font-size:9.0px;fill:#234364;stroke:#234364;stroke-width:0.12px" >36</text>
<text x="383.6" y="702" text-anchor="middle" textLength="9.31" lengthAdjust="spacingAndGlyphs" style="font-size:9.0px;fill:#234364;stroke:#234364;stroke-width:0.12px" >33</text>
<text x="400" y="702" text-anchor="middle" textLength="9.31" lengthAdjust="spacingAndGlyphs" style="font-size:9.0px;fill:#234364;stroke:#234364;stroke-width:0.12px" >29</text>
<text x="416.4" y="702" text-anchor="middle" textLength="9.31" lengthAdjust="spacingAndGlyphs" style="font-size:9.0px;fill:#234364;stroke:#234364;stroke-width:0.12px" >25</text>
<text x="432.8" y="702" text-anchor="middle" textLength="9.31" lengthAdjust="spacingAndGlyphs" style="font-size:9.0px;fill:#234364;stroke:#234364;stroke-width:0.12px" >22</text>
<text x="449.2" y="702" text-anchor="middle" textLength="9.31" lengthAdjust="spacingAndGlyphs" style="font-size:9.0px;fill:#234364;stroke:#234364;stroke-width:0.12px" >14</text>
<text x="465.6" y="702" text-anchor="middle" textLength="4.66" lengthAdjust="spacingAndGlyphs" style="font-size:9.0px;fill:#234364;stroke:#234364;stroke-width:0.12px" >8</text>
<text x="482" y="702" text-anchor="middle" textLength="4.66" lengthAdjust="spacingAndGlyphs" style="font-size:9.0px;fill:#234364;stroke:#234364;stroke-width:0.12px" >1</text>
<text x="498.4" y="702" text-anchor="middle" textLength="4.66" lengthAdjust="spacingAndGlyphs" style="font-size:9.0px;fill:#234364;stroke:#234364;stroke-width:0.12px" >0</text>
<text x="377.8" y="519.9" text-anchor="start" textLength="133.2" lengthAdjust="spacingAndGlyphs" style="font-size:8.7px;fill:#2a2a2a;stroke:#2a2a2a;stroke-width:0.0px" >HR 0.74; 95% CI 0.38-1.42; <tspan font-style="italic">P</tspan> = .36</text>
<path d="M318.1 508.4 H325.4 V512.6 H336.5 V516.8 H345.8 V521.1 H358.1 V526.2 H365 V530.4 H366.9 V534.6 H373.5 V538.8 H378.1 V543.1 H380.8 V547.3 H385.4 V551.6 H389.3 V556.3 H403.4 V560.4 H406.6 V564.6 H413.4 V568.9 H417.2 V573.5 H424.8 V578.5 H442.4 V588.1 H491.9 V644.4" fill="none" stroke="#b0183d" stroke-width="1.3"/>
<path d="M318.1 508.4 H328.5 V511.8 H342.7 V514.5 H355.4 V518.1 H358.8 V521.2 H362.7 V524.2 H368.1 V527.7 H372.3 V531.2 H383.3 V534.5 H392.2 V537.6 H398.2 V541.5 H399.1 V544.3 H399.7 V547.7 H403.4 V551.1 H406.7 V554 H412 V557.8 H429 V561.2 H437.8 V569.8 H477.6 V588.1 H485.4" fill="none" stroke="#234364" stroke-width="1.3"/>
<path d="M422.3 556.2 v3.2" stroke="#234364" stroke-width="0.9"/>
<path d="M434.4 559.6 v3.2" stroke="#234364" stroke-width="0.9"/>
<path d="M440.2 568.3 v3.2" stroke="#234364" stroke-width="0.9"/>
<path d="M446.3 568.3 v3.2" stroke="#234364" stroke-width="0.9"/>
<path d="M452 568.3 v3.2" stroke="#234364" stroke-width="0.9"/>
<path d="M456 568.3 v3.2" stroke="#234364" stroke-width="0.9"/>
<path d="M460 568.3 v3.2" stroke="#234364" stroke-width="0.9"/>
<path d="M463.5 568.3 v3.2" stroke="#234364" stroke-width="0.9"/>
<path d="M466.5 568.3 v3.2" stroke="#234364" stroke-width="0.9"/>
<path d="M470 568.3 v3.2" stroke="#234364" stroke-width="0.9"/>
<path d="M481 586.5 v3.2" stroke="#234364" stroke-width="0.9"/>
<path d="M484 586.5 v3.2" stroke="#234364" stroke-width="0.9"/>
<path d="M350.4 512.9 v3.2" stroke="#234364" stroke-width="0.9"/>
<path d="M434.7 576.9 v3.2" stroke="#b0183d" stroke-width="0.9"/>
<path d="M439 576.9 v3.2" stroke="#b0183d" stroke-width="0.9"/>
<path d="M448.3 586.5 v3.2" stroke="#b0183d" stroke-width="0.9"/>
<path d="M461 586.5 v3.2" stroke="#b0183d" stroke-width="0.9"/>
</svg>
</body></html>
